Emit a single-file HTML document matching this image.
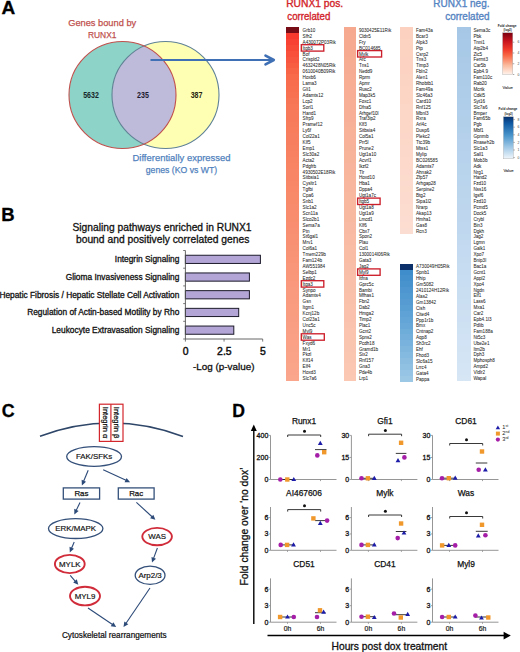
<!DOCTYPE html>
<html><head><meta charset="utf-8"><title>Figure</title>
<style>
html,body{margin:0;padding:0;background:#fff;}
body{width:520px;height:652px;overflow:hidden;}
svg{display:block;font-family:"Liberation Sans", sans-serif;}
</style></head><body>
<svg width="520" height="652" viewBox="0 0 520 652">
<rect width="520" height="652" fill="#fff"/>
<text x="1.4" y="14.3" font-size="19" fill="#000" font-weight="bold" stroke="#000" stroke-width="0.3">A</text>
<circle cx="122.5" cy="95" r="53.5" fill="#8DD3C7"/>
<circle cx="165.5" cy="95" r="53.5" fill="#FFFFB3"/>
<path d="M144.0,46.01020514433644 A53.5,53.5 0 0 1 144.0,143.98979485566355 A53.5,53.5 0 0 1 144.0,46.01020514433644 Z" fill="#BEBADA"/>
<circle cx="165.5" cy="95" r="53.5" fill="none" stroke="#5f8296" stroke-width="1.1"/>
<circle cx="122.5" cy="95" r="53.5" fill="none" stroke="#c0504d" stroke-width="1.1"/>
<text x="91.0" y="98.1" font-size="8.4" fill="#16262a" text-anchor="middle" font-weight="bold" textLength="15.6" lengthAdjust="spacingAndGlyphs">5632</text>
<text x="143" y="98.1" font-size="8.4" fill="#1c1a30" text-anchor="middle" font-weight="bold" textLength="11.8" lengthAdjust="spacingAndGlyphs">235</text>
<text x="196.6" y="98.1" font-size="8.4" fill="#262610" text-anchor="middle" font-weight="bold" textLength="11.8" lengthAdjust="spacingAndGlyphs">387</text>
<text x="102.2" y="25.8" font-size="9.9" fill="#c0504d" text-anchor="middle" stroke="#c0504d" stroke-width="0.25" textLength="68" lengthAdjust="spacingAndGlyphs">Genes bound by</text>
<text x="102.2" y="38" font-size="9.9" fill="#c0504d" text-anchor="middle" stroke="#c0504d" stroke-width="0.25" textLength="28.5" lengthAdjust="spacingAndGlyphs">RUNX1</text>
<text x="181.5" y="160.9" font-size="9.9" fill="#4f81bd" text-anchor="middle" stroke="#4f81bd" stroke-width="0.25" textLength="98" lengthAdjust="spacingAndGlyphs">Differentially expressed</text>
<text x="181.5" y="173.3" font-size="9.9" fill="#4f81bd" text-anchor="middle" stroke="#4f81bd" stroke-width="0.25" textLength="71.5" lengthAdjust="spacingAndGlyphs">genes (KO vs WT)</text>
<line x1="150.5" y1="60" x2="273" y2="60" stroke="#3f6fb4" stroke-width="2.2"/>
<polyline points="265.5,55.6 273.8,60 265.5,64.4" fill="none" stroke="#3f6fb4" stroke-width="2.6" stroke-linecap="round" stroke-linejoin="round"/>
<text x="286.2" y="7.3" font-size="10.6" fill="#d2232a" stroke="#d2232a" stroke-width="0.35" textLength="57.0" lengthAdjust="spacingAndGlyphs">RUNX1 pos.</text>
<text x="287.3" y="20.0" font-size="10.6" fill="#d2232a" stroke="#d2232a" stroke-width="0.35" textLength="43.0" lengthAdjust="spacingAndGlyphs">correlated</text>
<text x="489.5" y="7.3" font-size="10.6" fill="#5584c2" text-anchor="end" stroke="#5584c2" stroke-width="0.35" textLength="56.2" lengthAdjust="spacingAndGlyphs">RUNX1 neg.</text>
<text x="489.5" y="20.0" font-size="10.6" fill="#5584c2" text-anchor="end" stroke="#5584c2" stroke-width="0.35" textLength="44.3" lengthAdjust="spacingAndGlyphs">correlated</text>
<rect x="286.2" y="27.10" width="12.8" height="6.20" fill="#780c16" shape-rendering="crispEdges"/>
<rect x="286.2" y="33.00" width="12.8" height="6.20" fill="#f83a2e" shape-rendering="crispEdges"/>
<rect x="286.2" y="38.90" width="12.8" height="6.20" fill="#f84132" shape-rendering="crispEdges"/>
<rect x="286.2" y="44.80" width="12.8" height="6.20" fill="#f84936" shape-rendering="crispEdges"/>
<rect x="286.2" y="50.70" width="12.8" height="6.20" fill="#f8503a" shape-rendering="crispEdges"/>
<rect x="286.2" y="56.60" width="12.8" height="6.20" fill="#f8563e" shape-rendering="crispEdges"/>
<rect x="286.2" y="62.50" width="12.8" height="6.20" fill="#f85d42" shape-rendering="crispEdges"/>
<rect x="286.2" y="68.40" width="12.8" height="6.20" fill="#f86446" shape-rendering="crispEdges"/>
<rect x="286.2" y="74.30" width="12.8" height="6.20" fill="#f86a4a" shape-rendering="crispEdges"/>
<rect x="286.2" y="80.20" width="12.8" height="6.20" fill="#f86d4d" shape-rendering="crispEdges"/>
<rect x="286.2" y="86.10" width="12.8" height="6.20" fill="#f86f4f" shape-rendering="crispEdges"/>
<rect x="286.2" y="92.00" width="12.8" height="6.20" fill="#f87252" shape-rendering="crispEdges"/>
<rect x="286.2" y="97.90" width="12.8" height="6.20" fill="#f77555" shape-rendering="crispEdges"/>
<rect x="286.2" y="103.80" width="12.8" height="6.20" fill="#f77757" shape-rendering="crispEdges"/>
<rect x="286.2" y="109.70" width="12.8" height="6.20" fill="#f77a5a" shape-rendering="crispEdges"/>
<rect x="286.2" y="115.60" width="12.8" height="6.20" fill="#f77b5b" shape-rendering="crispEdges"/>
<rect x="286.2" y="121.50" width="12.8" height="6.20" fill="#f77c5c" shape-rendering="crispEdges"/>
<rect x="286.2" y="127.40" width="12.8" height="6.20" fill="#f77d5d" shape-rendering="crispEdges"/>
<rect x="286.2" y="133.30" width="12.8" height="6.20" fill="#f77e5e" shape-rendering="crispEdges"/>
<rect x="286.2" y="139.20" width="12.8" height="6.20" fill="#f77f5f" shape-rendering="crispEdges"/>
<rect x="286.2" y="145.10" width="12.8" height="6.20" fill="#f78060" shape-rendering="crispEdges"/>
<rect x="286.2" y="151.00" width="12.8" height="6.20" fill="#f78161" shape-rendering="crispEdges"/>
<rect x="286.2" y="156.90" width="12.8" height="6.20" fill="#f88363" shape-rendering="crispEdges"/>
<rect x="286.2" y="162.80" width="12.8" height="6.20" fill="#f88464" shape-rendering="crispEdges"/>
<rect x="286.2" y="168.70" width="12.8" height="6.20" fill="#f88565" shape-rendering="crispEdges"/>
<rect x="286.2" y="174.60" width="12.8" height="6.20" fill="#f88666" shape-rendering="crispEdges"/>
<rect x="286.2" y="180.50" width="12.8" height="6.20" fill="#f88767" shape-rendering="crispEdges"/>
<rect x="286.2" y="186.40" width="12.8" height="6.20" fill="#f88868" shape-rendering="crispEdges"/>
<rect x="286.2" y="192.30" width="12.8" height="6.20" fill="#f88969" shape-rendering="crispEdges"/>
<rect x="286.2" y="198.20" width="12.8" height="6.20" fill="#f88a6a" shape-rendering="crispEdges"/>
<rect x="286.2" y="204.10" width="12.8" height="6.20" fill="#f88b6b" shape-rendering="crispEdges"/>
<rect x="286.2" y="210.00" width="12.8" height="6.20" fill="#f88c6c" shape-rendering="crispEdges"/>
<rect x="286.2" y="215.90" width="12.8" height="6.20" fill="#f88d6e" shape-rendering="crispEdges"/>
<rect x="286.2" y="221.80" width="12.8" height="6.20" fill="#f88e6f" shape-rendering="crispEdges"/>
<rect x="286.2" y="227.70" width="12.8" height="6.20" fill="#f88f70" shape-rendering="crispEdges"/>
<rect x="286.2" y="233.60" width="12.8" height="6.20" fill="#f89072" shape-rendering="crispEdges"/>
<rect x="286.2" y="239.50" width="12.8" height="6.20" fill="#f89173" shape-rendering="crispEdges"/>
<rect x="286.2" y="245.40" width="12.8" height="6.20" fill="#f89274" shape-rendering="crispEdges"/>
<rect x="286.2" y="251.30" width="12.8" height="6.20" fill="#f99375" shape-rendering="crispEdges"/>
<rect x="286.2" y="257.20" width="12.8" height="6.20" fill="#f99476" shape-rendering="crispEdges"/>
<rect x="286.2" y="263.10" width="12.8" height="6.20" fill="#f99578" shape-rendering="crispEdges"/>
<rect x="286.2" y="269.00" width="12.8" height="6.20" fill="#f99679" shape-rendering="crispEdges"/>
<rect x="286.2" y="274.90" width="12.8" height="6.20" fill="#f9977a" shape-rendering="crispEdges"/>
<rect x="286.2" y="280.80" width="12.8" height="6.20" fill="#f9987c" shape-rendering="crispEdges"/>
<rect x="286.2" y="286.70" width="12.8" height="6.20" fill="#f9997d" shape-rendering="crispEdges"/>
<rect x="286.2" y="292.60" width="12.8" height="6.20" fill="#f99a7e" shape-rendering="crispEdges"/>
<rect x="286.2" y="298.50" width="12.8" height="6.20" fill="#f99b7f" shape-rendering="crispEdges"/>
<rect x="286.2" y="304.40" width="12.8" height="6.20" fill="#f99c80" shape-rendering="crispEdges"/>
<rect x="286.2" y="310.30" width="12.8" height="6.20" fill="#f99d81" shape-rendering="crispEdges"/>
<rect x="286.2" y="316.20" width="12.8" height="6.20" fill="#f99d82" shape-rendering="crispEdges"/>
<rect x="286.2" y="322.10" width="12.8" height="6.20" fill="#f99e83" shape-rendering="crispEdges"/>
<rect x="286.2" y="328.00" width="12.8" height="6.20" fill="#f99f84" shape-rendering="crispEdges"/>
<rect x="286.2" y="333.90" width="12.8" height="6.20" fill="#faa085" shape-rendering="crispEdges"/>
<rect x="286.2" y="339.80" width="12.8" height="6.20" fill="#faa186" shape-rendering="crispEdges"/>
<rect x="286.2" y="345.70" width="12.8" height="6.20" fill="#faa287" shape-rendering="crispEdges"/>
<rect x="286.2" y="351.60" width="12.8" height="6.20" fill="#faa388" shape-rendering="crispEdges"/>
<rect x="286.2" y="357.50" width="12.8" height="6.20" fill="#faa389" shape-rendering="crispEdges"/>
<rect x="286.2" y="363.40" width="12.8" height="6.20" fill="#faa48a" shape-rendering="crispEdges"/>
<rect x="286.2" y="369.30" width="12.8" height="6.20" fill="#faa58b" shape-rendering="crispEdges"/>
<rect x="286.2" y="375.20" width="12.8" height="6.20" fill="#faa68c" shape-rendering="crispEdges"/>
<text x="302.6" y="31.95" font-size="4.6" fill="#262626" stroke="#262626" stroke-width="0.04">Grb10</text>
<text x="302.6" y="37.85" font-size="4.6" fill="#262626" stroke="#262626" stroke-width="0.04">Sfh2</text>
<text x="302.6" y="43.75" font-size="4.6" fill="#262626" stroke="#262626" stroke-width="0.04">A430072P03Rik</text>
<text x="302.6" y="49.65" font-size="4.6" fill="#262626" stroke="#262626" stroke-width="0.04">Itgb3</text>
<text x="302.6" y="55.55" font-size="4.6" fill="#262626" stroke="#262626" stroke-width="0.04">Bof</text>
<text x="302.6" y="61.45" font-size="4.6" fill="#262626" stroke="#262626" stroke-width="0.04">Crispld2</text>
<text x="302.6" y="67.35" font-size="4.6" fill="#262626" stroke="#262626" stroke-width="0.04">4632428N05Rik</text>
<text x="302.6" y="73.25" font-size="4.6" fill="#262626" stroke="#262626" stroke-width="0.04">0610040B09Rik</text>
<text x="302.6" y="79.15" font-size="4.6" fill="#262626" stroke="#262626" stroke-width="0.04">Hoxb6</text>
<text x="302.6" y="85.05" font-size="4.6" fill="#262626" stroke="#262626" stroke-width="0.04">Lama3</text>
<text x="302.6" y="90.95" font-size="4.6" fill="#262626" stroke="#262626" stroke-width="0.04">Gli1</text>
<text x="302.6" y="96.85" font-size="4.6" fill="#262626" stroke="#262626" stroke-width="0.04">Adamts12</text>
<text x="302.6" y="102.75" font-size="4.6" fill="#262626" stroke="#262626" stroke-width="0.04">Lcp2</text>
<text x="302.6" y="108.65" font-size="4.6" fill="#262626" stroke="#262626" stroke-width="0.04">Sorl1</text>
<text x="302.6" y="114.55" font-size="4.6" fill="#262626" stroke="#262626" stroke-width="0.04">Hand1</text>
<text x="302.6" y="120.45" font-size="4.6" fill="#262626" stroke="#262626" stroke-width="0.04">Sfrp9</text>
<text x="302.6" y="126.35" font-size="4.6" fill="#262626" stroke="#262626" stroke-width="0.04">Pramef12</text>
<text x="302.6" y="132.25" font-size="4.6" fill="#262626" stroke="#262626" stroke-width="0.04">Ly6f</text>
<text x="302.6" y="138.15" font-size="4.6" fill="#262626" stroke="#262626" stroke-width="0.04">Col22a1</text>
<text x="302.6" y="144.05" font-size="4.6" fill="#262626" stroke="#262626" stroke-width="0.04">Klf5</text>
<text x="302.6" y="149.95" font-size="4.6" fill="#262626" stroke="#262626" stroke-width="0.04">Emp1</text>
<text x="302.6" y="155.85" font-size="4.6" fill="#262626" stroke="#262626" stroke-width="0.04">Slc30a2</text>
<text x="302.6" y="161.75" font-size="4.6" fill="#262626" stroke="#262626" stroke-width="0.04">Acta2</text>
<text x="302.6" y="167.65" font-size="4.6" fill="#262626" stroke="#262626" stroke-width="0.04">Pdgfrb</text>
<text x="302.6" y="173.55" font-size="4.6" fill="#262626" stroke="#262626" stroke-width="0.04">4930502E18Rik</text>
<text x="302.6" y="179.45" font-size="4.6" fill="#262626" stroke="#262626" stroke-width="0.04">Sitbsia1</text>
<text x="302.6" y="185.35" font-size="4.6" fill="#262626" stroke="#262626" stroke-width="0.04">Cysltr1</text>
<text x="302.6" y="191.25" font-size="4.6" fill="#262626" stroke="#262626" stroke-width="0.04">Tgfbi</text>
<text x="302.6" y="197.15" font-size="4.6" fill="#262626" stroke="#262626" stroke-width="0.04">Cpa6</text>
<text x="302.6" y="203.05" font-size="4.6" fill="#262626" stroke="#262626" stroke-width="0.04">Snb1</text>
<text x="302.6" y="208.95" font-size="4.6" fill="#262626" stroke="#262626" stroke-width="0.04">Slc1a2</text>
<text x="302.6" y="214.85" font-size="4.6" fill="#262626" stroke="#262626" stroke-width="0.04">Scn11a</text>
<text x="302.6" y="220.75" font-size="4.6" fill="#262626" stroke="#262626" stroke-width="0.04">Slco2b1</text>
<text x="302.6" y="226.65" font-size="4.6" fill="#262626" stroke="#262626" stroke-width="0.04">Sema7a</text>
<text x="302.6" y="232.55" font-size="4.6" fill="#262626" stroke="#262626" stroke-width="0.04">Ptn</text>
<text x="302.6" y="238.45" font-size="4.6" fill="#262626" stroke="#262626" stroke-width="0.04">St6gal1</text>
<text x="302.6" y="244.35" font-size="4.6" fill="#262626" stroke="#262626" stroke-width="0.04">Mrv1</text>
<text x="302.6" y="250.25" font-size="4.6" fill="#262626" stroke="#262626" stroke-width="0.04">Col6a1</text>
<text x="302.6" y="256.15" font-size="4.6" fill="#262626" stroke="#262626" stroke-width="0.04">Tmem229b</text>
<text x="302.6" y="262.05" font-size="4.6" fill="#262626" stroke="#262626" stroke-width="0.04">Fam124b</text>
<text x="302.6" y="267.95" font-size="4.6" fill="#262626" stroke="#262626" stroke-width="0.04">AW551984</text>
<text x="302.6" y="273.85" font-size="4.6" fill="#262626" stroke="#262626" stroke-width="0.04">Selbp1</text>
<text x="302.6" y="279.75" font-size="4.6" fill="#262626" stroke="#262626" stroke-width="0.04">Ezdc2</text>
<text x="302.6" y="285.65" font-size="4.6" fill="#262626" stroke="#262626" stroke-width="0.04">Itga3</text>
<text x="302.6" y="291.55" font-size="4.6" fill="#262626" stroke="#262626" stroke-width="0.04">Synpo</text>
<text x="302.6" y="297.45" font-size="4.6" fill="#262626" stroke="#262626" stroke-width="0.04">Adamts4</text>
<text x="302.6" y="303.35" font-size="4.6" fill="#262626" stroke="#262626" stroke-width="0.04">Gsn</text>
<text x="302.6" y="309.25" font-size="4.6" fill="#262626" stroke="#262626" stroke-width="0.04">Itgm1</text>
<text x="302.6" y="315.15" font-size="4.6" fill="#262626" stroke="#262626" stroke-width="0.04">Kcnj12b</text>
<text x="302.6" y="321.05" font-size="4.6" fill="#262626" stroke="#262626" stroke-width="0.04">Col23a1</text>
<text x="302.6" y="326.95" font-size="4.6" fill="#262626" stroke="#262626" stroke-width="0.04">Unc5c</text>
<text x="302.6" y="332.85" font-size="4.6" fill="#262626" stroke="#262626" stroke-width="0.04">Myl9</text>
<text x="302.6" y="338.75" font-size="4.6" fill="#262626" stroke="#262626" stroke-width="0.04">Was</text>
<text x="302.6" y="344.65" font-size="4.6" fill="#262626" stroke="#262626" stroke-width="0.04">Fxyd6</text>
<text x="302.6" y="350.55" font-size="4.6" fill="#262626" stroke="#262626" stroke-width="0.04">Mr1</text>
<text x="302.6" y="356.45" font-size="4.6" fill="#262626" stroke="#262626" stroke-width="0.04">Pkzl</text>
<text x="302.6" y="362.35" font-size="4.6" fill="#262626" stroke="#262626" stroke-width="0.04">Klf14</text>
<text x="302.6" y="368.25" font-size="4.6" fill="#262626" stroke="#262626" stroke-width="0.04">Elf4</text>
<text x="302.6" y="374.15" font-size="4.6" fill="#262626" stroke="#262626" stroke-width="0.04">Hoxd3</text>
<text x="302.6" y="380.05" font-size="4.6" fill="#262626" stroke="#262626" stroke-width="0.04">Slc7a6</text>
<rect x="301.3" y="44.70" width="22.5" height="6.40" fill="none" stroke="#cc1f2c" stroke-width="1.35"/>
<rect x="301.3" y="280.70" width="22.5" height="6.40" fill="none" stroke="#cc1f2c" stroke-width="1.35"/>
<rect x="301.3" y="333.80" width="23" height="6.40" fill="none" stroke="#cc1f2c" stroke-width="1.35"/>
<rect x="343.5" y="27.10" width="12.5" height="6.20" fill="#f6a98e" shape-rendering="crispEdges"/>
<rect x="343.5" y="33.00" width="12.5" height="6.20" fill="#f6aa8f" shape-rendering="crispEdges"/>
<rect x="343.5" y="38.90" width="12.5" height="6.20" fill="#f6aa8f" shape-rendering="crispEdges"/>
<rect x="343.5" y="44.80" width="12.5" height="6.20" fill="#f6aa90" shape-rendering="crispEdges"/>
<rect x="343.5" y="50.70" width="12.5" height="6.20" fill="#f6ab90" shape-rendering="crispEdges"/>
<rect x="343.5" y="56.60" width="12.5" height="6.20" fill="#f6ac91" shape-rendering="crispEdges"/>
<rect x="343.5" y="62.50" width="12.5" height="6.20" fill="#f6ac92" shape-rendering="crispEdges"/>
<rect x="343.5" y="68.40" width="12.5" height="6.20" fill="#f6ac92" shape-rendering="crispEdges"/>
<rect x="343.5" y="74.30" width="12.5" height="6.20" fill="#f7ad93" shape-rendering="crispEdges"/>
<rect x="343.5" y="80.20" width="12.5" height="6.20" fill="#f7ae93" shape-rendering="crispEdges"/>
<rect x="343.5" y="86.10" width="12.5" height="6.20" fill="#f7ae94" shape-rendering="crispEdges"/>
<rect x="343.5" y="92.00" width="12.5" height="6.20" fill="#f7ae95" shape-rendering="crispEdges"/>
<rect x="343.5" y="97.90" width="12.5" height="6.20" fill="#f7af95" shape-rendering="crispEdges"/>
<rect x="343.5" y="103.80" width="12.5" height="6.20" fill="#f7b096" shape-rendering="crispEdges"/>
<rect x="343.5" y="109.70" width="12.5" height="6.20" fill="#f7b096" shape-rendering="crispEdges"/>
<rect x="343.5" y="115.60" width="12.5" height="6.20" fill="#f7b097" shape-rendering="crispEdges"/>
<rect x="343.5" y="121.50" width="12.5" height="6.20" fill="#f7b198" shape-rendering="crispEdges"/>
<rect x="343.5" y="127.40" width="12.5" height="6.20" fill="#f7b298" shape-rendering="crispEdges"/>
<rect x="343.5" y="133.30" width="12.5" height="6.20" fill="#f7b299" shape-rendering="crispEdges"/>
<rect x="343.5" y="139.20" width="12.5" height="6.20" fill="#f7b299" shape-rendering="crispEdges"/>
<rect x="343.5" y="145.10" width="12.5" height="6.20" fill="#f7b39a" shape-rendering="crispEdges"/>
<rect x="343.5" y="151.00" width="12.5" height="6.20" fill="#f7b49b" shape-rendering="crispEdges"/>
<rect x="343.5" y="156.90" width="12.5" height="6.20" fill="#f7b49b" shape-rendering="crispEdges"/>
<rect x="343.5" y="162.80" width="12.5" height="6.20" fill="#f8b49c" shape-rendering="crispEdges"/>
<rect x="343.5" y="168.70" width="12.5" height="6.20" fill="#f8b59c" shape-rendering="crispEdges"/>
<rect x="343.5" y="174.60" width="12.5" height="6.20" fill="#f8b69d" shape-rendering="crispEdges"/>
<rect x="343.5" y="180.50" width="12.5" height="6.20" fill="#f8b69e" shape-rendering="crispEdges"/>
<rect x="343.5" y="186.40" width="12.5" height="6.20" fill="#f8b69e" shape-rendering="crispEdges"/>
<rect x="343.5" y="192.30" width="12.5" height="6.20" fill="#f8b79f" shape-rendering="crispEdges"/>
<rect x="343.5" y="198.20" width="12.5" height="6.20" fill="#f8b89f" shape-rendering="crispEdges"/>
<rect x="343.5" y="204.10" width="12.5" height="6.20" fill="#f8b8a0" shape-rendering="crispEdges"/>
<rect x="343.5" y="210.00" width="12.5" height="6.20" fill="#f8b9a1" shape-rendering="crispEdges"/>
<rect x="343.5" y="215.90" width="12.5" height="6.20" fill="#f8b9a1" shape-rendering="crispEdges"/>
<rect x="343.5" y="221.80" width="12.5" height="6.20" fill="#f8baa2" shape-rendering="crispEdges"/>
<rect x="343.5" y="227.70" width="12.5" height="6.20" fill="#f8baa3" shape-rendering="crispEdges"/>
<rect x="343.5" y="233.60" width="12.5" height="6.20" fill="#f9bba3" shape-rendering="crispEdges"/>
<rect x="343.5" y="239.50" width="12.5" height="6.20" fill="#f9bba4" shape-rendering="crispEdges"/>
<rect x="343.5" y="245.40" width="12.5" height="6.20" fill="#f9bca5" shape-rendering="crispEdges"/>
<rect x="343.5" y="251.30" width="12.5" height="6.20" fill="#f9bca5" shape-rendering="crispEdges"/>
<rect x="343.5" y="257.20" width="12.5" height="6.20" fill="#f9bda6" shape-rendering="crispEdges"/>
<rect x="343.5" y="263.10" width="12.5" height="6.20" fill="#f9bea7" shape-rendering="crispEdges"/>
<rect x="343.5" y="269.00" width="12.5" height="6.20" fill="#f9bea7" shape-rendering="crispEdges"/>
<rect x="343.5" y="274.90" width="12.5" height="6.20" fill="#f9bfa8" shape-rendering="crispEdges"/>
<rect x="343.5" y="280.80" width="12.5" height="6.20" fill="#f9bfa9" shape-rendering="crispEdges"/>
<rect x="343.5" y="286.70" width="12.5" height="6.20" fill="#f9c0a9" shape-rendering="crispEdges"/>
<rect x="343.5" y="292.60" width="12.5" height="6.20" fill="#fac0aa" shape-rendering="crispEdges"/>
<rect x="343.5" y="298.50" width="12.5" height="6.20" fill="#fac1aa" shape-rendering="crispEdges"/>
<rect x="343.5" y="304.40" width="12.5" height="6.20" fill="#fac1ab" shape-rendering="crispEdges"/>
<rect x="343.5" y="310.30" width="12.5" height="6.20" fill="#fac2ac" shape-rendering="crispEdges"/>
<rect x="343.5" y="316.20" width="12.5" height="6.20" fill="#fac2ac" shape-rendering="crispEdges"/>
<rect x="343.5" y="322.10" width="12.5" height="6.20" fill="#fac3ad" shape-rendering="crispEdges"/>
<rect x="343.5" y="328.00" width="12.5" height="6.20" fill="#fac4ae" shape-rendering="crispEdges"/>
<rect x="343.5" y="333.90" width="12.5" height="6.20" fill="#fac4ae" shape-rendering="crispEdges"/>
<rect x="343.5" y="339.80" width="12.5" height="6.20" fill="#fac5af" shape-rendering="crispEdges"/>
<rect x="343.5" y="345.70" width="12.5" height="6.20" fill="#fac5b0" shape-rendering="crispEdges"/>
<rect x="343.5" y="351.60" width="12.5" height="6.20" fill="#fbc6b0" shape-rendering="crispEdges"/>
<rect x="343.5" y="357.50" width="12.5" height="6.20" fill="#fbc6b1" shape-rendering="crispEdges"/>
<rect x="343.5" y="363.40" width="12.5" height="6.20" fill="#fbc7b2" shape-rendering="crispEdges"/>
<rect x="343.5" y="369.30" width="12.5" height="6.20" fill="#fbc7b2" shape-rendering="crispEdges"/>
<rect x="343.5" y="375.20" width="12.5" height="6.20" fill="#fbc8b3" shape-rendering="crispEdges"/>
<text x="358.9" y="31.95" font-size="4.6" fill="#262626" stroke="#262626" stroke-width="0.04">9030425E11Rik</text>
<text x="358.9" y="37.85" font-size="4.6" fill="#262626" stroke="#262626" stroke-width="0.04">Cldn5</text>
<text x="358.9" y="43.75" font-size="4.6" fill="#262626" stroke="#262626" stroke-width="0.04">Fry</text>
<text x="358.9" y="49.65" font-size="4.6" fill="#262626" stroke="#262626" stroke-width="0.04">BC014685</text>
<text x="358.9" y="55.55" font-size="4.6" fill="#262626" stroke="#262626" stroke-width="0.04">Mylk</text>
<text x="358.9" y="61.45" font-size="4.6" fill="#262626" stroke="#262626" stroke-width="0.04">Arc</text>
<text x="358.9" y="67.35" font-size="4.6" fill="#262626" stroke="#262626" stroke-width="0.04">Tns1</text>
<text x="358.9" y="73.25" font-size="4.6" fill="#262626" stroke="#262626" stroke-width="0.04">Nedd9</text>
<text x="358.9" y="79.15" font-size="4.6" fill="#262626" stroke="#262626" stroke-width="0.04">Rprm</text>
<text x="358.9" y="85.05" font-size="4.6" fill="#262626" stroke="#262626" stroke-width="0.04">Apmr</text>
<text x="358.9" y="90.95" font-size="4.6" fill="#262626" stroke="#262626" stroke-width="0.04">Rusc2</text>
<text x="358.9" y="96.85" font-size="4.6" fill="#262626" stroke="#262626" stroke-width="0.04">Map3k5</text>
<text x="358.9" y="102.75" font-size="4.6" fill="#262626" stroke="#262626" stroke-width="0.04">Foxc1</text>
<text x="358.9" y="108.65" font-size="4.6" fill="#262626" stroke="#262626" stroke-width="0.04">Dfna5</text>
<text x="358.9" y="114.55" font-size="4.6" fill="#262626" stroke="#262626" stroke-width="0.04">Arhgef10l</text>
<text x="358.9" y="120.45" font-size="4.6" fill="#262626" stroke="#262626" stroke-width="0.04">Traf3ip2</text>
<text x="358.9" y="126.35" font-size="4.6" fill="#262626" stroke="#262626" stroke-width="0.04">Klf3</text>
<text x="358.9" y="132.25" font-size="4.6" fill="#262626" stroke="#262626" stroke-width="0.04">Sitbsia4</text>
<text x="358.9" y="138.15" font-size="4.6" fill="#262626" stroke="#262626" stroke-width="0.04">Col5a1</text>
<text x="358.9" y="144.05" font-size="4.6" fill="#262626" stroke="#262626" stroke-width="0.04">Prr5l</text>
<text x="358.9" y="149.95" font-size="4.6" fill="#262626" stroke="#262626" stroke-width="0.04">Prune2</text>
<text x="358.9" y="155.85" font-size="4.6" fill="#262626" stroke="#262626" stroke-width="0.04">Ugt1a10</text>
<text x="358.9" y="161.75" font-size="4.6" fill="#262626" stroke="#262626" stroke-width="0.04">Acvrl1</text>
<text x="358.9" y="167.65" font-size="4.6" fill="#262626" stroke="#262626" stroke-width="0.04">Ikzf2</text>
<text x="358.9" y="173.55" font-size="4.6" fill="#262626" stroke="#262626" stroke-width="0.04">Tlr</text>
<text x="358.9" y="179.45" font-size="4.6" fill="#262626" stroke="#262626" stroke-width="0.04">Hoxd10</text>
<text x="358.9" y="185.35" font-size="4.6" fill="#262626" stroke="#262626" stroke-width="0.04">Hba1</text>
<text x="358.9" y="191.25" font-size="4.6" fill="#262626" stroke="#262626" stroke-width="0.04">Dppa4</text>
<text x="358.9" y="197.15" font-size="4.6" fill="#262626" stroke="#262626" stroke-width="0.04">Ugt1a7c</text>
<text x="358.9" y="203.05" font-size="4.6" fill="#262626" stroke="#262626" stroke-width="0.04">Itgb5</text>
<text x="358.9" y="208.95" font-size="4.6" fill="#262626" stroke="#262626" stroke-width="0.04">Ugt1a8</text>
<text x="358.9" y="214.85" font-size="4.6" fill="#262626" stroke="#262626" stroke-width="0.04">Ugt1a9</text>
<text x="358.9" y="220.75" font-size="4.6" fill="#262626" stroke="#262626" stroke-width="0.04">Lmcd1</text>
<text x="358.9" y="226.65" font-size="4.6" fill="#262626" stroke="#262626" stroke-width="0.04">Klf6</text>
<text x="358.9" y="232.55" font-size="4.6" fill="#262626" stroke="#262626" stroke-width="0.04">Cbx7</text>
<text x="358.9" y="238.45" font-size="4.6" fill="#262626" stroke="#262626" stroke-width="0.04">Spon2</text>
<text x="358.9" y="244.35" font-size="4.6" fill="#262626" stroke="#262626" stroke-width="0.04">Plau</text>
<text x="358.9" y="250.25" font-size="4.6" fill="#262626" stroke="#262626" stroke-width="0.04">Col1</text>
<text x="358.9" y="256.15" font-size="4.6" fill="#262626" stroke="#262626" stroke-width="0.04">1300014I06Rik</text>
<text x="358.9" y="262.05" font-size="4.6" fill="#262626" stroke="#262626" stroke-width="0.04">Gata3</text>
<text x="358.9" y="267.95" font-size="4.6" fill="#262626" stroke="#262626" stroke-width="0.04">Jag2</text>
<text x="358.9" y="273.85" font-size="4.6" fill="#262626" stroke="#262626" stroke-width="0.04">Myl9</text>
<text x="358.9" y="279.75" font-size="4.6" fill="#262626" stroke="#262626" stroke-width="0.04">Itfna</text>
<text x="358.9" y="285.65" font-size="4.6" fill="#262626" stroke="#262626" stroke-width="0.04">Gprc5c</text>
<text x="358.9" y="291.55" font-size="4.6" fill="#262626" stroke="#262626" stroke-width="0.04">Bambi</text>
<text x="358.9" y="297.45" font-size="4.6" fill="#262626" stroke="#262626" stroke-width="0.04">Mfhas1</text>
<text x="358.9" y="303.35" font-size="4.6" fill="#262626" stroke="#262626" stroke-width="0.04">Fbn2</text>
<text x="358.9" y="309.25" font-size="4.6" fill="#262626" stroke="#262626" stroke-width="0.04">Dab2</text>
<text x="358.9" y="315.15" font-size="4.6" fill="#262626" stroke="#262626" stroke-width="0.04">Hmga2</text>
<text x="358.9" y="321.05" font-size="4.6" fill="#262626" stroke="#262626" stroke-width="0.04">Timp2</text>
<text x="358.9" y="326.95" font-size="4.6" fill="#262626" stroke="#262626" stroke-width="0.04">Plac1</text>
<text x="358.9" y="332.85" font-size="4.6" fill="#262626" stroke="#262626" stroke-width="0.04">Gcnt2</text>
<text x="358.9" y="338.75" font-size="4.6" fill="#262626" stroke="#262626" stroke-width="0.04">Spns2</text>
<text x="358.9" y="344.65" font-size="4.6" fill="#262626" stroke="#262626" stroke-width="0.04">Pcdh18</text>
<text x="358.9" y="350.55" font-size="4.6" fill="#262626" stroke="#262626" stroke-width="0.04">Gramd1b</text>
<text x="358.9" y="356.45" font-size="4.6" fill="#262626" stroke="#262626" stroke-width="0.04">Six2</text>
<text x="358.9" y="362.35" font-size="4.6" fill="#262626" stroke="#262626" stroke-width="0.04">Rnf157</text>
<text x="358.9" y="368.25" font-size="4.6" fill="#262626" stroke="#262626" stroke-width="0.04">Gna3</text>
<text x="358.9" y="374.15" font-size="4.6" fill="#262626" stroke="#262626" stroke-width="0.04">Pde4b</text>
<text x="358.9" y="380.05" font-size="4.6" fill="#262626" stroke="#262626" stroke-width="0.04">Lrp1</text>
<rect x="357.59999999999997" y="50.60" width="24" height="6.40" fill="none" stroke="#cc1f2c" stroke-width="1.35"/>
<rect x="357.59999999999997" y="198.10" width="22.5" height="6.40" fill="none" stroke="#cc1f2c" stroke-width="1.35"/>
<rect x="357.59999999999997" y="268.90" width="22.5" height="6.40" fill="none" stroke="#cc1f2c" stroke-width="1.35"/>
<rect x="400.0" y="27.10" width="12.8" height="6.20" fill="#fcd1bf" shape-rendering="crispEdges"/>
<rect x="400.0" y="33.00" width="12.8" height="6.20" fill="#fcd1c0" shape-rendering="crispEdges"/>
<rect x="400.0" y="38.90" width="12.8" height="6.20" fill="#fcd2c0" shape-rendering="crispEdges"/>
<rect x="400.0" y="44.80" width="12.8" height="6.20" fill="#fcd2c1" shape-rendering="crispEdges"/>
<rect x="400.0" y="50.70" width="12.8" height="6.20" fill="#fcd2c1" shape-rendering="crispEdges"/>
<rect x="400.0" y="56.60" width="12.8" height="6.20" fill="#fcd3c2" shape-rendering="crispEdges"/>
<rect x="400.0" y="62.50" width="12.8" height="6.20" fill="#fcd3c2" shape-rendering="crispEdges"/>
<rect x="400.0" y="68.40" width="12.8" height="6.20" fill="#fcd3c3" shape-rendering="crispEdges"/>
<rect x="400.0" y="74.30" width="12.8" height="6.20" fill="#fcd4c3" shape-rendering="crispEdges"/>
<rect x="400.0" y="80.20" width="12.8" height="6.20" fill="#fcd4c4" shape-rendering="crispEdges"/>
<rect x="400.0" y="86.10" width="12.8" height="6.20" fill="#fcd5c4" shape-rendering="crispEdges"/>
<rect x="400.0" y="92.00" width="12.8" height="6.20" fill="#fcd5c5" shape-rendering="crispEdges"/>
<rect x="400.0" y="97.90" width="12.8" height="6.20" fill="#fcd5c5" shape-rendering="crispEdges"/>
<rect x="400.0" y="103.80" width="12.8" height="6.20" fill="#fcd6c6" shape-rendering="crispEdges"/>
<rect x="400.0" y="109.70" width="12.8" height="6.20" fill="#fcd6c6" shape-rendering="crispEdges"/>
<rect x="400.0" y="115.60" width="12.8" height="6.20" fill="#fcd6c7" shape-rendering="crispEdges"/>
<rect x="400.0" y="121.50" width="12.8" height="6.20" fill="#fcd7c7" shape-rendering="crispEdges"/>
<rect x="400.0" y="127.40" width="12.8" height="6.20" fill="#fcd7c8" shape-rendering="crispEdges"/>
<rect x="400.0" y="133.30" width="12.8" height="6.20" fill="#fcd7c9" shape-rendering="crispEdges"/>
<rect x="400.0" y="139.20" width="12.8" height="6.20" fill="#fcd8c9" shape-rendering="crispEdges"/>
<rect x="400.0" y="145.10" width="12.8" height="6.20" fill="#fcd8ca" shape-rendering="crispEdges"/>
<rect x="400.0" y="151.00" width="12.8" height="6.20" fill="#fcd8ca" shape-rendering="crispEdges"/>
<rect x="400.0" y="156.90" width="12.8" height="6.20" fill="#fcd9cb" shape-rendering="crispEdges"/>
<rect x="400.0" y="162.80" width="12.8" height="6.20" fill="#fcd9cb" shape-rendering="crispEdges"/>
<rect x="400.0" y="168.70" width="12.8" height="6.20" fill="#fcd9cc" shape-rendering="crispEdges"/>
<rect x="400.0" y="174.60" width="12.8" height="6.20" fill="#fcdacc" shape-rendering="crispEdges"/>
<rect x="400.0" y="180.50" width="12.8" height="6.20" fill="#fcdacd" shape-rendering="crispEdges"/>
<rect x="400.0" y="186.40" width="12.8" height="6.20" fill="#fcdbcd" shape-rendering="crispEdges"/>
<rect x="400.0" y="192.30" width="12.8" height="6.20" fill="#fcdbce" shape-rendering="crispEdges"/>
<rect x="400.0" y="198.20" width="12.8" height="6.20" fill="#fcdbce" shape-rendering="crispEdges"/>
<rect x="400.0" y="204.10" width="12.8" height="6.20" fill="#fcdccf" shape-rendering="crispEdges"/>
<rect x="400.0" y="210.00" width="12.8" height="6.20" fill="#fcdccf" shape-rendering="crispEdges"/>
<rect x="400.0" y="215.90" width="12.8" height="6.20" fill="#fcdcd0" shape-rendering="crispEdges"/>
<rect x="400.0" y="221.80" width="12.8" height="6.20" fill="#fcddd0" shape-rendering="crispEdges"/>
<rect x="400.0" y="227.70" width="12.8" height="6.20" fill="#fcddd1" shape-rendering="crispEdges"/>
<text x="416.0" y="31.95" font-size="4.6" fill="#262626" stroke="#262626" stroke-width="0.04">Fam43a</text>
<text x="416.0" y="37.85" font-size="4.6" fill="#262626" stroke="#262626" stroke-width="0.04">Bcar3</text>
<text x="416.0" y="43.75" font-size="4.6" fill="#262626" stroke="#262626" stroke-width="0.04">Alpk3</text>
<text x="416.0" y="49.65" font-size="4.6" fill="#262626" stroke="#262626" stroke-width="0.04">Ptp</text>
<text x="416.0" y="55.55" font-size="4.6" fill="#262626" stroke="#262626" stroke-width="0.04">Csrp2</text>
<text x="416.0" y="61.45" font-size="4.6" fill="#262626" stroke="#262626" stroke-width="0.04">Tns3</text>
<text x="416.0" y="67.35" font-size="4.6" fill="#262626" stroke="#262626" stroke-width="0.04">Timp3</text>
<text x="416.0" y="73.25" font-size="4.6" fill="#262626" stroke="#262626" stroke-width="0.04">Fbln2</text>
<text x="416.0" y="79.15" font-size="4.6" fill="#262626" stroke="#262626" stroke-width="0.04">Alen1</text>
<text x="416.0" y="85.05" font-size="4.6" fill="#262626" stroke="#262626" stroke-width="0.04">Rhobtb1</text>
<text x="416.0" y="90.95" font-size="4.6" fill="#262626" stroke="#262626" stroke-width="0.04">Fam49a</text>
<text x="416.0" y="96.85" font-size="4.6" fill="#262626" stroke="#262626" stroke-width="0.04">Slc46a3</text>
<text x="416.0" y="102.75" font-size="4.6" fill="#262626" stroke="#262626" stroke-width="0.04">Card10</text>
<text x="416.0" y="108.65" font-size="4.6" fill="#262626" stroke="#262626" stroke-width="0.04">Rnf125</text>
<text x="416.0" y="114.55" font-size="4.6" fill="#262626" stroke="#262626" stroke-width="0.04">Mbnl3</text>
<text x="416.0" y="120.45" font-size="4.6" fill="#262626" stroke="#262626" stroke-width="0.04">Rxra</text>
<text x="416.0" y="126.35" font-size="4.6" fill="#262626" stroke="#262626" stroke-width="0.04">Arl4c</text>
<text x="416.0" y="132.25" font-size="4.6" fill="#262626" stroke="#262626" stroke-width="0.04">Dusp6</text>
<text x="416.0" y="138.15" font-size="4.6" fill="#262626" stroke="#262626" stroke-width="0.04">Plekc2</text>
<text x="416.0" y="144.05" font-size="4.6" fill="#262626" stroke="#262626" stroke-width="0.04">Ttc39b</text>
<text x="416.0" y="149.95" font-size="4.6" fill="#262626" stroke="#262626" stroke-width="0.04">Mtss1</text>
<text x="416.0" y="155.85" font-size="4.6" fill="#262626" stroke="#262626" stroke-width="0.04">Mylip</text>
<text x="416.0" y="161.75" font-size="4.6" fill="#262626" stroke="#262626" stroke-width="0.04">BC026585</text>
<text x="416.0" y="167.65" font-size="4.6" fill="#262626" stroke="#262626" stroke-width="0.04">Adamts7</text>
<text x="416.0" y="173.55" font-size="4.6" fill="#262626" stroke="#262626" stroke-width="0.04">Ahnak2</text>
<text x="416.0" y="179.45" font-size="4.6" fill="#262626" stroke="#262626" stroke-width="0.04">Zfp57</text>
<text x="416.0" y="185.35" font-size="4.6" fill="#262626" stroke="#262626" stroke-width="0.04">Arhgap28</text>
<text x="416.0" y="191.25" font-size="4.6" fill="#262626" stroke="#262626" stroke-width="0.04">Serpine2</text>
<text x="416.0" y="197.15" font-size="4.6" fill="#262626" stroke="#262626" stroke-width="0.04">Btg2</text>
<text x="416.0" y="203.05" font-size="4.6" fill="#262626" stroke="#262626" stroke-width="0.04">Sipa1l2</text>
<text x="416.0" y="208.95" font-size="4.6" fill="#262626" stroke="#262626" stroke-width="0.04">Nrarp</text>
<text x="416.0" y="214.85" font-size="4.6" fill="#262626" stroke="#262626" stroke-width="0.04">Akap13</text>
<text x="416.0" y="220.75" font-size="4.6" fill="#262626" stroke="#262626" stroke-width="0.04">Hmha1</text>
<text x="416.0" y="226.65" font-size="4.6" fill="#262626" stroke="#262626" stroke-width="0.04">Gas8</text>
<text x="416.0" y="232.55" font-size="4.6" fill="#262626" stroke="#262626" stroke-width="0.04">Rcn3</text>
<rect x="399.8" y="263.60" width="13.4" height="6.20" fill="#0c306a" shape-rendering="crispEdges"/>
<rect x="399.8" y="269.50" width="13.4" height="6.20" fill="#3f8dcb" shape-rendering="crispEdges"/>
<rect x="399.8" y="275.40" width="13.4" height="6.20" fill="#4490cc" shape-rendering="crispEdges"/>
<rect x="399.8" y="281.30" width="13.4" height="6.20" fill="#4893ce" shape-rendering="crispEdges"/>
<rect x="399.8" y="287.20" width="13.4" height="6.20" fill="#4d96cf" shape-rendering="crispEdges"/>
<rect x="399.8" y="293.10" width="13.4" height="6.20" fill="#5199d1" shape-rendering="crispEdges"/>
<rect x="399.8" y="299.00" width="13.4" height="6.20" fill="#569cd2" shape-rendering="crispEdges"/>
<rect x="399.8" y="304.90" width="13.4" height="6.20" fill="#5a9fd4" shape-rendering="crispEdges"/>
<rect x="399.8" y="310.80" width="13.4" height="6.20" fill="#5fa2d5" shape-rendering="crispEdges"/>
<rect x="399.8" y="316.70" width="13.4" height="6.20" fill="#63a5d7" shape-rendering="crispEdges"/>
<rect x="399.8" y="322.60" width="13.4" height="6.20" fill="#68a8d8" shape-rendering="crispEdges"/>
<rect x="399.8" y="328.50" width="13.4" height="6.20" fill="#6eacda" shape-rendering="crispEdges"/>
<rect x="399.8" y="334.40" width="13.4" height="6.20" fill="#74afdb" shape-rendering="crispEdges"/>
<rect x="399.8" y="340.30" width="13.4" height="6.20" fill="#79b3dd" shape-rendering="crispEdges"/>
<rect x="399.8" y="346.20" width="13.4" height="6.20" fill="#7fb6de" shape-rendering="crispEdges"/>
<rect x="399.8" y="352.10" width="13.4" height="6.20" fill="#85bae0" shape-rendering="crispEdges"/>
<rect x="399.8" y="358.00" width="13.4" height="6.20" fill="#8bbde1" shape-rendering="crispEdges"/>
<rect x="399.8" y="363.90" width="13.4" height="6.20" fill="#90c1e3" shape-rendering="crispEdges"/>
<rect x="399.8" y="369.80" width="13.4" height="6.20" fill="#96c4e4" shape-rendering="crispEdges"/>
<rect x="399.8" y="375.70" width="13.4" height="6.20" fill="#9cc8e6" shape-rendering="crispEdges"/>
<text x="416.0" y="268.45" font-size="4.6" fill="#262626" stroke="#262626" stroke-width="0.04">A730049H05Rik</text>
<text x="416.0" y="274.35" font-size="4.6" fill="#262626" stroke="#262626" stroke-width="0.04">Spnb1</text>
<text x="416.0" y="280.25" font-size="4.6" fill="#262626" stroke="#262626" stroke-width="0.04">Hhip</text>
<text x="416.0" y="286.15" font-size="4.6" fill="#262626" stroke="#262626" stroke-width="0.04">Gm5082</text>
<text x="416.0" y="292.05" font-size="4.6" fill="#262626" stroke="#262626" stroke-width="0.04">2410124H12Rik</text>
<text x="416.0" y="297.95" font-size="4.6" fill="#262626" stroke="#262626" stroke-width="0.04">Alas2</text>
<text x="416.0" y="303.85" font-size="4.6" fill="#262626" stroke="#262626" stroke-width="0.04">Gm13842</text>
<text x="416.0" y="309.75" font-size="4.6" fill="#262626" stroke="#262626" stroke-width="0.04">Cish</text>
<text x="416.0" y="315.65" font-size="4.6" fill="#262626" stroke="#262626" stroke-width="0.04">Cited4</text>
<text x="416.0" y="321.55" font-size="4.6" fill="#262626" stroke="#262626" stroke-width="0.04">Ppp1r1b</text>
<text x="416.0" y="327.45" font-size="4.6" fill="#262626" stroke="#262626" stroke-width="0.04">Bmx</text>
<text x="416.0" y="333.35" font-size="4.6" fill="#262626" stroke="#262626" stroke-width="0.04">Cntnap2</text>
<text x="416.0" y="339.25" font-size="4.6" fill="#262626" stroke="#262626" stroke-width="0.04">Aqp8</text>
<text x="416.0" y="345.15" font-size="4.6" fill="#262626" stroke="#262626" stroke-width="0.04">Sh3rc2</text>
<text x="416.0" y="351.05" font-size="4.6" fill="#262626" stroke="#262626" stroke-width="0.04">Ehf</text>
<text x="416.0" y="356.95" font-size="4.6" fill="#262626" stroke="#262626" stroke-width="0.04">Fhod3</text>
<text x="416.0" y="362.85" font-size="4.6" fill="#262626" stroke="#262626" stroke-width="0.04">Slc6a15</text>
<text x="416.0" y="368.75" font-size="4.6" fill="#262626" stroke="#262626" stroke-width="0.04">Lrrc4</text>
<text x="416.0" y="374.65" font-size="4.6" fill="#262626" stroke="#262626" stroke-width="0.04">Gata4</text>
<text x="416.0" y="380.55" font-size="4.6" fill="#262626" stroke="#262626" stroke-width="0.04">Pappa</text>
<rect x="457.0" y="27.10" width="13.5" height="6.20" fill="#a6c8e6" shape-rendering="crispEdges"/>
<rect x="457.0" y="33.00" width="13.5" height="6.20" fill="#a7c8e6" shape-rendering="crispEdges"/>
<rect x="457.0" y="38.90" width="13.5" height="6.20" fill="#a8c9e7" shape-rendering="crispEdges"/>
<rect x="457.0" y="44.80" width="13.5" height="6.20" fill="#a8c9e7" shape-rendering="crispEdges"/>
<rect x="457.0" y="50.70" width="13.5" height="6.20" fill="#a9cae7" shape-rendering="crispEdges"/>
<rect x="457.0" y="56.60" width="13.5" height="6.20" fill="#aacae7" shape-rendering="crispEdges"/>
<rect x="457.0" y="62.50" width="13.5" height="6.20" fill="#abcbe8" shape-rendering="crispEdges"/>
<rect x="457.0" y="68.40" width="13.5" height="6.20" fill="#abcbe8" shape-rendering="crispEdges"/>
<rect x="457.0" y="74.30" width="13.5" height="6.20" fill="#accce8" shape-rendering="crispEdges"/>
<rect x="457.0" y="80.20" width="13.5" height="6.20" fill="#adcce8" shape-rendering="crispEdges"/>
<rect x="457.0" y="86.10" width="13.5" height="6.20" fill="#aecde9" shape-rendering="crispEdges"/>
<rect x="457.0" y="92.00" width="13.5" height="6.20" fill="#aecde9" shape-rendering="crispEdges"/>
<rect x="457.0" y="97.90" width="13.5" height="6.20" fill="#afcee9" shape-rendering="crispEdges"/>
<rect x="457.0" y="103.80" width="13.5" height="6.20" fill="#b0cee9" shape-rendering="crispEdges"/>
<rect x="457.0" y="109.70" width="13.5" height="6.20" fill="#b1cfea" shape-rendering="crispEdges"/>
<rect x="457.0" y="115.60" width="13.5" height="6.20" fill="#b2cfea" shape-rendering="crispEdges"/>
<rect x="457.0" y="121.50" width="13.5" height="6.20" fill="#b2cfea" shape-rendering="crispEdges"/>
<rect x="457.0" y="127.40" width="13.5" height="6.20" fill="#b3d0eb" shape-rendering="crispEdges"/>
<rect x="457.0" y="133.30" width="13.5" height="6.20" fill="#b4d0eb" shape-rendering="crispEdges"/>
<rect x="457.0" y="139.20" width="13.5" height="6.20" fill="#b5d1eb" shape-rendering="crispEdges"/>
<rect x="457.0" y="145.10" width="13.5" height="6.20" fill="#b5d1eb" shape-rendering="crispEdges"/>
<rect x="457.0" y="151.00" width="13.5" height="6.20" fill="#b6d2ec" shape-rendering="crispEdges"/>
<rect x="457.0" y="156.90" width="13.5" height="6.20" fill="#b7d2ec" shape-rendering="crispEdges"/>
<rect x="457.0" y="162.80" width="13.5" height="6.20" fill="#b8d3ec" shape-rendering="crispEdges"/>
<rect x="457.0" y="168.70" width="13.5" height="6.20" fill="#b8d3ec" shape-rendering="crispEdges"/>
<rect x="457.0" y="174.60" width="13.5" height="6.20" fill="#b9d4ed" shape-rendering="crispEdges"/>
<rect x="457.0" y="180.50" width="13.5" height="6.20" fill="#bad4ed" shape-rendering="crispEdges"/>
<rect x="457.0" y="186.40" width="13.5" height="6.20" fill="#bbd5ed" shape-rendering="crispEdges"/>
<rect x="457.0" y="192.30" width="13.5" height="6.20" fill="#bbd5ed" shape-rendering="crispEdges"/>
<rect x="457.0" y="198.20" width="13.5" height="6.20" fill="#bcd6ee" shape-rendering="crispEdges"/>
<rect x="457.0" y="204.10" width="13.5" height="6.20" fill="#bdd6ee" shape-rendering="crispEdges"/>
<rect x="457.0" y="210.00" width="13.5" height="6.20" fill="#bed7ee" shape-rendering="crispEdges"/>
<rect x="457.0" y="215.90" width="13.5" height="6.20" fill="#bfd7ee" shape-rendering="crispEdges"/>
<rect x="457.0" y="221.80" width="13.5" height="6.20" fill="#c0d8ef" shape-rendering="crispEdges"/>
<rect x="457.0" y="227.70" width="13.5" height="6.20" fill="#c0d8ef" shape-rendering="crispEdges"/>
<rect x="457.0" y="233.60" width="13.5" height="6.20" fill="#c1d9ef" shape-rendering="crispEdges"/>
<rect x="457.0" y="239.50" width="13.5" height="6.20" fill="#c2d9ef" shape-rendering="crispEdges"/>
<rect x="457.0" y="245.40" width="13.5" height="6.20" fill="#c3daf0" shape-rendering="crispEdges"/>
<rect x="457.0" y="251.30" width="13.5" height="6.20" fill="#c4daf0" shape-rendering="crispEdges"/>
<rect x="457.0" y="257.20" width="13.5" height="6.20" fill="#c5dbf0" shape-rendering="crispEdges"/>
<rect x="457.0" y="263.10" width="13.5" height="6.20" fill="#c6dcf0" shape-rendering="crispEdges"/>
<rect x="457.0" y="269.00" width="13.5" height="6.20" fill="#c6dcf1" shape-rendering="crispEdges"/>
<rect x="457.0" y="274.90" width="13.5" height="6.20" fill="#c7ddf1" shape-rendering="crispEdges"/>
<rect x="457.0" y="280.80" width="13.5" height="6.20" fill="#c8ddf1" shape-rendering="crispEdges"/>
<rect x="457.0" y="286.70" width="13.5" height="6.20" fill="#c9def1" shape-rendering="crispEdges"/>
<rect x="457.0" y="292.60" width="13.5" height="6.20" fill="#cadef2" shape-rendering="crispEdges"/>
<rect x="457.0" y="298.50" width="13.5" height="6.20" fill="#cbdff2" shape-rendering="crispEdges"/>
<rect x="457.0" y="304.40" width="13.5" height="6.20" fill="#ccdff2" shape-rendering="crispEdges"/>
<rect x="457.0" y="310.30" width="13.5" height="6.20" fill="#cde0f2" shape-rendering="crispEdges"/>
<rect x="457.0" y="316.20" width="13.5" height="6.20" fill="#cde0f3" shape-rendering="crispEdges"/>
<rect x="457.0" y="322.10" width="13.5" height="6.20" fill="#cee1f3" shape-rendering="crispEdges"/>
<rect x="457.0" y="328.00" width="13.5" height="6.20" fill="#cfe2f3" shape-rendering="crispEdges"/>
<rect x="457.0" y="333.90" width="13.5" height="6.20" fill="#d0e2f3" shape-rendering="crispEdges"/>
<rect x="457.0" y="339.80" width="13.5" height="6.20" fill="#d1e3f4" shape-rendering="crispEdges"/>
<rect x="457.0" y="345.70" width="13.5" height="6.20" fill="#d2e3f4" shape-rendering="crispEdges"/>
<rect x="457.0" y="351.60" width="13.5" height="6.20" fill="#d3e4f4" shape-rendering="crispEdges"/>
<rect x="457.0" y="357.50" width="13.5" height="6.20" fill="#d3e4f4" shape-rendering="crispEdges"/>
<rect x="457.0" y="363.40" width="13.5" height="6.20" fill="#d4e5f5" shape-rendering="crispEdges"/>
<rect x="457.0" y="369.30" width="13.5" height="6.20" fill="#d5e5f5" shape-rendering="crispEdges"/>
<rect x="457.0" y="375.20" width="13.5" height="6.20" fill="#d6e6f5" shape-rendering="crispEdges"/>
<text x="473.4" y="31.95" font-size="4.6" fill="#262626" stroke="#262626" stroke-width="0.04">Sema3c</text>
<text x="473.4" y="37.85" font-size="4.6" fill="#262626" stroke="#262626" stroke-width="0.04">Pbk</text>
<text x="473.4" y="43.75" font-size="4.6" fill="#262626" stroke="#262626" stroke-width="0.04">Tnni1</text>
<text x="473.4" y="49.65" font-size="4.6" fill="#262626" stroke="#262626" stroke-width="0.04">Atp2b4</text>
<text x="473.4" y="55.55" font-size="4.6" fill="#262626" stroke="#262626" stroke-width="0.04">Zic5</text>
<text x="473.4" y="61.45" font-size="4.6" fill="#262626" stroke="#262626" stroke-width="0.04">Fermt3</text>
<text x="473.4" y="67.35" font-size="4.6" fill="#262626" stroke="#262626" stroke-width="0.04">Car5b</text>
<text x="473.4" y="73.25" font-size="4.6" fill="#262626" stroke="#262626" stroke-width="0.04">Epb4.9</text>
<text x="473.4" y="79.15" font-size="4.6" fill="#262626" stroke="#262626" stroke-width="0.04">Fam110c</text>
<text x="473.4" y="85.05" font-size="4.6" fill="#262626" stroke="#262626" stroke-width="0.04">Rab20</text>
<text x="473.4" y="90.95" font-size="4.6" fill="#262626" stroke="#262626" stroke-width="0.04">Mcrtk</text>
<text x="473.4" y="96.85" font-size="4.6" fill="#262626" stroke="#262626" stroke-width="0.04">Cdkl5</text>
<text x="473.4" y="102.75" font-size="4.6" fill="#262626" stroke="#262626" stroke-width="0.04">Syt16</text>
<text x="473.4" y="108.65" font-size="4.6" fill="#262626" stroke="#262626" stroke-width="0.04">Slc7a6</text>
<text x="473.4" y="114.55" font-size="4.6" fill="#262626" stroke="#262626" stroke-width="0.04">Bmper</text>
<text x="473.4" y="120.45" font-size="4.6" fill="#262626" stroke="#262626" stroke-width="0.04">Fam65b</text>
<text x="473.4" y="126.35" font-size="4.6" fill="#262626" stroke="#262626" stroke-width="0.04">Pgb</text>
<text x="473.4" y="132.25" font-size="4.6" fill="#262626" stroke="#262626" stroke-width="0.04">Mbf1</text>
<text x="473.4" y="138.15" font-size="4.6" fill="#262626" stroke="#262626" stroke-width="0.04">Gpnmb</text>
<text x="473.4" y="144.05" font-size="4.6" fill="#262626" stroke="#262626" stroke-width="0.04">Rnaseh2b</text>
<text x="473.4" y="149.95" font-size="4.6" fill="#262626" stroke="#262626" stroke-width="0.04">Slc1a3</text>
<text x="473.4" y="155.85" font-size="4.6" fill="#262626" stroke="#262626" stroke-width="0.04">Sall1</text>
<text x="473.4" y="161.75" font-size="4.6" fill="#262626" stroke="#262626" stroke-width="0.04">Mob3b</text>
<text x="473.4" y="167.65" font-size="4.6" fill="#262626" stroke="#262626" stroke-width="0.04">Adk</text>
<text x="473.4" y="173.55" font-size="4.6" fill="#262626" stroke="#262626" stroke-width="0.04">Nrg1</text>
<text x="473.4" y="179.45" font-size="4.6" fill="#262626" stroke="#262626" stroke-width="0.04">Hand2</text>
<text x="473.4" y="185.35" font-size="4.6" fill="#262626" stroke="#262626" stroke-width="0.04">Fzd10</text>
<text x="473.4" y="191.25" font-size="4.6" fill="#262626" stroke="#262626" stroke-width="0.04">Nss16</text>
<text x="473.4" y="197.15" font-size="4.6" fill="#262626" stroke="#262626" stroke-width="0.04">Igsf6</text>
<text x="473.4" y="203.05" font-size="4.6" fill="#262626" stroke="#262626" stroke-width="0.04">Fzd10</text>
<text x="473.4" y="208.95" font-size="4.6" fill="#262626" stroke="#262626" stroke-width="0.04">Pcmd5</text>
<text x="473.4" y="214.85" font-size="4.6" fill="#262626" stroke="#262626" stroke-width="0.04">Dock5</text>
<text x="473.4" y="220.75" font-size="4.6" fill="#262626" stroke="#262626" stroke-width="0.04">Crybl</text>
<text x="473.4" y="226.65" font-size="4.6" fill="#262626" stroke="#262626" stroke-width="0.04">Bin3</text>
<text x="473.4" y="232.55" font-size="4.6" fill="#262626" stroke="#262626" stroke-width="0.04">Dgkh</text>
<text x="473.4" y="238.45" font-size="4.6" fill="#262626" stroke="#262626" stroke-width="0.04">Jag2</text>
<text x="473.4" y="244.35" font-size="4.6" fill="#262626" stroke="#262626" stroke-width="0.04">Lgmn</text>
<text x="473.4" y="250.25" font-size="4.6" fill="#262626" stroke="#262626" stroke-width="0.04">Galk1</text>
<text x="473.4" y="256.15" font-size="4.6" fill="#262626" stroke="#262626" stroke-width="0.04">Xpo7</text>
<text x="473.4" y="262.05" font-size="4.6" fill="#262626" stroke="#262626" stroke-width="0.04">Bnip3l</text>
<text x="473.4" y="267.95" font-size="4.6" fill="#262626" stroke="#262626" stroke-width="0.04">Bac1a</text>
<text x="473.4" y="273.85" font-size="4.6" fill="#262626" stroke="#262626" stroke-width="0.04">Gcnt1</text>
<text x="473.4" y="279.75" font-size="4.6" fill="#262626" stroke="#262626" stroke-width="0.04">Appl2</text>
<text x="473.4" y="285.65" font-size="4.6" fill="#262626" stroke="#262626" stroke-width="0.04">Xpo4</text>
<text x="473.4" y="291.55" font-size="4.6" fill="#262626" stroke="#262626" stroke-width="0.04">Ngdn</text>
<text x="473.4" y="297.45" font-size="4.6" fill="#262626" stroke="#262626" stroke-width="0.04">Elf1</text>
<text x="473.4" y="303.35" font-size="4.6" fill="#262626" stroke="#262626" stroke-width="0.04">Lass6</text>
<text x="473.4" y="309.25" font-size="4.6" fill="#262626" stroke="#262626" stroke-width="0.04">Mxa1</text>
<text x="473.4" y="315.15" font-size="4.6" fill="#262626" stroke="#262626" stroke-width="0.04">Car2</text>
<text x="473.4" y="321.05" font-size="4.6" fill="#262626" stroke="#262626" stroke-width="0.04">Epb4.1l3</text>
<text x="473.4" y="326.95" font-size="4.6" fill="#262626" stroke="#262626" stroke-width="0.04">Pdlib</text>
<text x="473.4" y="332.85" font-size="4.6" fill="#262626" stroke="#262626" stroke-width="0.04">Fam188a</text>
<text x="473.4" y="338.75" font-size="4.6" fill="#262626" stroke="#262626" stroke-width="0.04">Nt5c3</text>
<text x="473.4" y="344.65" font-size="4.6" fill="#262626" stroke="#262626" stroke-width="0.04">Ube2e1</text>
<text x="473.4" y="350.55" font-size="4.6" fill="#262626" stroke="#262626" stroke-width="0.04">Itm2b</text>
<text x="473.4" y="356.45" font-size="4.6" fill="#262626" stroke="#262626" stroke-width="0.04">Dph3</text>
<text x="473.4" y="362.35" font-size="4.6" fill="#262626" stroke="#262626" stroke-width="0.04">Mphosph8</text>
<text x="473.4" y="368.25" font-size="4.6" fill="#262626" stroke="#262626" stroke-width="0.04">Ampd2</text>
<text x="473.4" y="374.15" font-size="4.6" fill="#262626" stroke="#262626" stroke-width="0.04">Vldlr2</text>
<text x="473.4" y="380.05" font-size="4.6" fill="#262626" stroke="#262626" stroke-width="0.04">Wapal</text>
<defs><linearGradient id="gr" x1="0" y1="0" x2="0" y2="1"><stop offset="0" stop-color="#7a0010"/><stop offset="0.2" stop-color="#c8141e"/><stop offset="0.4" stop-color="#f03a2a"/><stop offset="0.55" stop-color="#f86a48"/><stop offset="0.78" stop-color="#fbbb9e"/><stop offset="1" stop-color="#fff4ee"/></linearGradient><linearGradient id="gb" x1="0" y1="0" x2="0" y2="1"><stop offset="0" stop-color="#08306b"/><stop offset="0.15" stop-color="#0e58a2"/><stop offset="0.45" stop-color="#4b96cc"/><stop offset="0.75" stop-color="#a8cde8"/><stop offset="1" stop-color="#f0f6fb"/></linearGradient></defs>
<rect x="502.6" y="32.8" width="10.2" height="41.8" fill="url(#gr)" stroke="#aaa" stroke-width="0.4"/>
<rect x="503.4" y="116.8" width="10" height="42" fill="url(#gb)" stroke="#aaa" stroke-width="0.4"/>
<text x="507.2" y="27.0" font-size="3.2" fill="#222" text-anchor="middle" font-weight="bold">Fold change</text>
<text x="507.7" y="31.2" font-size="3.0" fill="#222" text-anchor="middle" font-weight="bold">(log2)</text>
<text x="508.0" y="110.4" font-size="3.2" fill="#222" text-anchor="middle" font-weight="bold">Fold change</text>
<text x="508.6" y="114.8" font-size="3.0" fill="#222" text-anchor="middle" font-weight="bold">(log2)</text>
<text x="507.7" y="88.6" font-size="4.1" fill="#333" text-anchor="middle" stroke="#333" stroke-width="0.1">Value</text>
<text x="508.5" y="171.8" font-size="4.1" fill="#333" text-anchor="middle" stroke="#333" stroke-width="0.1">Value</text>
<line x1="512.8" y1="42.20" x2="514.3" y2="42.20" stroke="#555" stroke-width="0.5"/>
<text x="517.4" y="43.4" font-size="3.4" fill="#444">6</text>
<line x1="512.8" y1="52.97" x2="514.3" y2="52.97" stroke="#555" stroke-width="0.5"/>
<text x="517.4" y="54.17" font-size="3.4" fill="#444">4</text>
<line x1="512.8" y1="63.74" x2="514.3" y2="63.74" stroke="#555" stroke-width="0.5"/>
<text x="517.4" y="64.94" font-size="3.4" fill="#444">2</text>
<line x1="512.8" y1="74.51" x2="514.3" y2="74.51" stroke="#555" stroke-width="0.5"/>
<text x="517.4" y="75.71" font-size="3.4" fill="#444">0</text>
<line x1="513.4" y1="119.60" x2="514.8" y2="119.60" stroke="#555" stroke-width="0.5"/>
<text x="517.4" y="120.8" font-size="3.4" fill="#444">8</text>
<line x1="513.4" y1="127.20" x2="514.8" y2="127.20" stroke="#555" stroke-width="0.5"/>
<text x="517.4" y="128.4" font-size="3.4" fill="#444">6</text>
<line x1="513.4" y1="134.80" x2="514.8" y2="134.80" stroke="#555" stroke-width="0.5"/>
<text x="517.4" y="136.0" font-size="3.4" fill="#444">4</text>
<line x1="513.4" y1="142.40" x2="514.8" y2="142.40" stroke="#555" stroke-width="0.5"/>
<text x="517.4" y="143.6" font-size="3.4" fill="#444">2</text>
<line x1="513.4" y1="150.00" x2="514.8" y2="150.00" stroke="#555" stroke-width="0.5"/>
<text x="517.4" y="151.2" font-size="3.4" fill="#444">1</text>
<line x1="513.4" y1="157.60" x2="514.8" y2="157.60" stroke="#555" stroke-width="0.5"/>
<text x="517.4" y="158.8" font-size="3.4" fill="#444">0</text>
<text x="1.2" y="221.4" font-size="18.5" fill="#000" font-weight="bold" stroke="#000" stroke-width="0.3">B</text>
<text x="162" y="231.4" font-size="10.3" fill="#111" text-anchor="middle" stroke="#111" stroke-width="0.3" textLength="179" lengthAdjust="spacingAndGlyphs">Signaling pathways enriched in RUNX1</text>
<text x="162.7" y="242.6" font-size="10.3" fill="#111" text-anchor="middle" stroke="#111" stroke-width="0.3" textLength="173.5" lengthAdjust="spacingAndGlyphs">bound and positively correlated genes</text>
<text x="179.3" y="262.15" font-size="8.35" fill="#111" text-anchor="end" stroke="#111" stroke-width="0.3">Integrin Signaling</text>
<rect x="185.4" y="255.25" width="75.00" height="8.2" fill="#b3a6d6" stroke="#1c1a2a" stroke-width="1"/>
<text x="179.3" y="279.85" font-size="8.35" fill="#111" text-anchor="end" stroke="#111" stroke-width="0.3">Glioma Invasiveness Signaling</text>
<rect x="185.4" y="272.95" width="64.00" height="8.2" fill="#b3a6d6" stroke="#1c1a2a" stroke-width="1"/>
<text x="179.3" y="297.55" font-size="8.35" fill="#111" text-anchor="end" stroke="#111" stroke-width="0.3">Hepatic Fibrosis / Hepatic Stellate Cell Activation</text>
<rect x="185.4" y="290.65" width="64.00" height="8.2" fill="#b3a6d6" stroke="#1c1a2a" stroke-width="1"/>
<text x="179.3" y="315.25" font-size="8.35" fill="#111" text-anchor="end" stroke="#111" stroke-width="0.3">Regulation of Actin-based Motility by Rho</text>
<rect x="185.4" y="308.35" width="53.30" height="8.2" fill="#b3a6d6" stroke="#1c1a2a" stroke-width="1"/>
<text x="179.3" y="332.95" font-size="8.35" fill="#111" text-anchor="end" stroke="#111" stroke-width="0.3">Leukocyte Extravasation Signaling</text>
<rect x="185.4" y="326.05" width="48.40" height="8.2" fill="#b3a6d6" stroke="#1c1a2a" stroke-width="1"/>
<line x1="183.20000000000002" y1="250.50" x2="185.4" y2="250.50" stroke="#555" stroke-width="0.8"/>
<line x1="183.20000000000002" y1="268.20" x2="185.4" y2="268.20" stroke="#555" stroke-width="0.8"/>
<line x1="183.20000000000002" y1="285.90" x2="185.4" y2="285.90" stroke="#555" stroke-width="0.8"/>
<line x1="183.20000000000002" y1="303.60" x2="185.4" y2="303.60" stroke="#555" stroke-width="0.8"/>
<line x1="183.20000000000002" y1="321.30" x2="185.4" y2="321.30" stroke="#555" stroke-width="0.8"/>
<line x1="183.20000000000002" y1="339.00" x2="185.4" y2="339.00" stroke="#555" stroke-width="0.8"/>
<line x1="185.4" y1="250.5" x2="185.4" y2="339.00" stroke="#555" stroke-width="0.9"/>
<line x1="185.4" y1="339.00" x2="262.7" y2="339.00" stroke="#555" stroke-width="0.9"/>
<line x1="185.4" y1="339.00" x2="185.4" y2="341.60" stroke="#555" stroke-width="0.8"/>
<text x="185.70000000000002" y="355.2" font-size="10.4" fill="#111" text-anchor="middle" stroke="#111" stroke-width="0.45">0</text>
<line x1="224.05" y1="339.00" x2="224.05" y2="341.60" stroke="#555" stroke-width="0.8"/>
<text x="224.35000000000002" y="355.2" font-size="10.4" fill="#111" text-anchor="middle" stroke="#111" stroke-width="0.45">2.5</text>
<line x1="262.7" y1="339.00" x2="262.7" y2="341.60" stroke="#555" stroke-width="0.8"/>
<text x="263.0" y="355.2" font-size="10.4" fill="#111" text-anchor="middle" stroke="#111" stroke-width="0.45">5</text>
<text x="223.8" y="370.4" font-size="9.9" fill="#111" text-anchor="middle" stroke="#111" stroke-width="0.3">-Log (p-value)</text>
<text x="1.8" y="416.5" font-size="17.8" fill="#000" font-weight="bold" stroke="#000" stroke-width="0.3">C</text>
<path d="M40,436.3 Q111.4,409.8 183,436.5" fill="none" stroke="#2e4668" stroke-width="1.5"/>
<rect x="99.4" y="404.2" width="23.6" height="37.2" fill="#fff" stroke="#d2262c" stroke-width="1.2"/>
<line x1="110.9" y1="404.2" x2="110.9" y2="441.4" stroke="#d2262c" stroke-width="1.2"/>
<text transform="translate(102.6,406.8) rotate(90)" font-size="7.5" fill="#111" stroke="#111" stroke-width="0.25">Integrin α</text>
<text transform="translate(114.2,406.8) rotate(90)" font-size="7.5" fill="#111" stroke="#111" stroke-width="0.25">Integrin β</text>
<ellipse cx="94.1" cy="456.5" rx="27.4" ry="9.8" fill="#fff" stroke="#34507a" stroke-width="1.3"/>
<text x="94.1" y="459.2" font-size="7.9" fill="#111" text-anchor="middle" stroke="#111" stroke-width="0.18">FAK/SFKs</text>
<rect x="63.3" y="487.9" width="36.3" height="11.2" fill="#fff" stroke="#34507a" stroke-width="1.3"/>
<rect x="118.3" y="487.9" width="35.8" height="11.2" fill="#fff" stroke="#34507a" stroke-width="1.3"/>
<text x="81.4" y="496.3" font-size="7.9" fill="#111" text-anchor="middle" stroke="#111" stroke-width="0.25">Ras</text>
<text x="136.2" y="496.3" font-size="7.9" fill="#111" text-anchor="middle" stroke="#111" stroke-width="0.25">Rac</text>
<ellipse cx="75.7" cy="528.6" rx="27.2" ry="9.9" fill="#fff" stroke="#34507a" stroke-width="1.3"/>
<text x="75.7" y="531.3" font-size="7.9" fill="#111" text-anchor="middle" stroke="#111" stroke-width="0.18">ERK/MAPK</text>
<ellipse cx="157.1" cy="536.6" rx="14.8" ry="8.7" fill="#fff" stroke="#d02c3a" stroke-width="1.9"/>
<text x="157.1" y="539.3" font-size="7.9" fill="#111" text-anchor="middle" stroke="#111" stroke-width="0.18">WAS</text>
<ellipse cx="69.8" cy="564.0" rx="14.9" ry="9.1" fill="#fff" stroke="#d02c3a" stroke-width="1.9"/>
<text x="69.8" y="566.7" font-size="7.9" fill="#111" text-anchor="middle" stroke="#111" stroke-width="0.18">MYLK</text>
<ellipse cx="150.1" cy="575.3" rx="14.9" ry="9.1" fill="#fff" stroke="#34507a" stroke-width="1.3"/>
<text x="150.1" y="578.0" font-size="7.9" fill="#111" text-anchor="middle" stroke="#111" stroke-width="0.18">Arp2/3</text>
<ellipse cx="85.0" cy="596.1" rx="15.0" ry="9.3" fill="#fff" stroke="#d02c3a" stroke-width="1.9"/>
<text x="85.0" y="598.8" font-size="7.9" fill="#111" text-anchor="middle" stroke="#111" stroke-width="0.18">MYL9</text>
<line x1="88.2" y1="470.3" x2="83.63" y2="481.25" stroke="#2c4a78" stroke-width="1.1"/>
<polygon points="81.9,485.4 81.61,479.86 86.04,481.71" fill="#2c4a78"/>
<line x1="103.2" y1="469.7" x2="126.02" y2="480.30" stroke="#2c4a78" stroke-width="1.1"/>
<polygon points="130.1,482.2 124.55,482.27 126.58,477.92" fill="#2c4a78"/>
<line x1="80.0" y1="502.4" x2="76.23" y2="510.34" stroke="#2c4a78" stroke-width="1.1"/>
<polygon points="74.3,514.4 74.28,508.85 78.61,510.91" fill="#2c4a78"/>
<line x1="136.4" y1="502.4" x2="152.08" y2="516.76" stroke="#2c4a78" stroke-width="1.1"/>
<polygon points="155.4,519.8 150.09,518.19 153.33,514.65" fill="#2c4a78"/>
<line x1="74.2" y1="542.0" x2="71.55" y2="548.26" stroke="#2c4a78" stroke-width="1.1"/>
<polygon points="69.8,552.4 69.54,546.86 73.96,548.73" fill="#2c4a78"/>
<line x1="157.4" y1="548.0" x2="153.56" y2="558.38" stroke="#2c4a78" stroke-width="1.1"/>
<polygon points="152.0,562.6 151.48,557.08 155.99,558.74" fill="#2c4a78"/>
<line x1="70.2" y1="575.4" x2="75.34" y2="581.31" stroke="#2c4a78" stroke-width="1.1"/>
<polygon points="78.3,584.7 73.21,582.51 76.83,579.35" fill="#2c4a78"/>
<line x1="88.0" y1="608.0" x2="112.47" y2="624.49" stroke="#2c4a78" stroke-width="1.1"/>
<polygon points="116.2,627.0 110.71,626.20 113.39,622.22" fill="#2c4a78"/>
<line x1="150.0" y1="588.0" x2="126.03" y2="623.28" stroke="#2c4a78" stroke-width="1.1"/>
<polygon points="123.5,627.0 124.33,621.52 128.30,624.21" fill="#2c4a78"/>
<text x="114.3" y="637.9" font-size="8.2" fill="#111" text-anchor="middle" stroke="#111" stroke-width="0.22">Cytoskeletal rearrangements</text>
<text x="232.3" y="416.6" font-size="17.6" fill="#000" font-weight="bold" stroke="#000" stroke-width="0.3">D</text>
<line x1="253.8" y1="429" x2="253.8" y2="624" stroke="#000" stroke-width="1.4"/>
<polygon points="253.8,424.5 250.8,431 256.8,431" fill="#000"/>
<line x1="267.5" y1="635.6" x2="505" y2="635.6" stroke="#000" stroke-width="1.5"/>
<polygon points="510.8,635.6 503.6,631.8 503.6,639.4" fill="#000"/>
<text transform="translate(247.9,585.5) rotate(-90)" font-size="10.2" fill="#111" stroke="#111" stroke-width="0.3" textLength="118" lengthAdjust="spacingAndGlyphs">Fold change over  &#8216;no dox&#8217;</text>
<text x="389.3" y="650.3" font-size="10.3" fill="#111" text-anchor="middle" stroke="#111" stroke-width="0.3">Hours post dox treatment</text>
<polygon points="497.9,425.54 495.70,429.35 500.10,429.35" fill="#1c1ca8"/>
<rect x="495.90" y="431.60" width="4.0" height="4.0" fill="#f0982c"/>
<circle cx="497.9" cy="439.6" r="2.1" fill="#a51ea8"/>
<text x="502.3" y="429.4" font-size="5.6" fill="#222">1<tspan font-size="3.6" dy="-2">st</tspan></text>
<text x="502.3" y="435.2" font-size="5.6" fill="#222">2<tspan font-size="3.6" dy="-2">nd</tspan></text>
<text x="502.3" y="441.2" font-size="5.6" fill="#222">3<tspan font-size="3.6" dy="-2">rd</tspan></text>
<line x1="270.5" y1="435.4" x2="270.5" y2="479.5" stroke="#8a8a8a" stroke-width="0.9"/>
<line x1="270.5" y1="479.5" x2="336.5" y2="479.5" stroke="#8a8a8a" stroke-width="0.9"/>
<line x1="268.7" y1="479.50" x2="270.5" y2="479.50" stroke="#8a8a8a" stroke-width="0.8"/>
<text x="268.3" y="481.9" font-size="7.0" fill="#111" text-anchor="end" stroke="#111" stroke-width="0.28">0</text>
<line x1="268.7" y1="457.45" x2="270.5" y2="457.45" stroke="#8a8a8a" stroke-width="0.8"/>
<text x="268.3" y="459.85" font-size="7.0" fill="#111" text-anchor="end" stroke="#111" stroke-width="0.28">200</text>
<line x1="268.7" y1="435.40" x2="270.5" y2="435.40" stroke="#8a8a8a" stroke-width="0.8"/>
<text x="268.3" y="437.8" font-size="7.0" fill="#111" text-anchor="end" stroke="#111" stroke-width="0.28">400</text>
<line x1="287.5" y1="479.5" x2="287.5" y2="481.1" stroke="#8a8a8a" stroke-width="0.8"/>
<line x1="320.5" y1="479.5" x2="320.5" y2="481.1" stroke="#8a8a8a" stroke-width="0.8"/>
<text x="304.0" y="424.2" font-size="8.4" fill="#111" text-anchor="middle" stroke="#111" stroke-width="0.25">Runx1</text>
<path d="M287.7,437.0 L287.7,435.0 L320.7,435.0 L320.7,437.0" fill="none" stroke="#222" stroke-width="0.9"/>
<circle cx="304.5" cy="431.2" r="1.5" fill="#111"/>
<line x1="279.5" y1="479.5" x2="294.5" y2="479.5" stroke="#222" stroke-width="0.9"/>
<line x1="315.0" y1="449.6" x2="326.5" y2="449.6" stroke="#222" stroke-width="0.9"/>
<circle cx="280.3" cy="479.5" r="2.3" fill="#a51ea8"/>
<rect x="285.10" y="477.30" width="4.4" height="4.4" fill="#f0982c"/>
<polygon points="293.8,476.92 291.40,481.08 296.20,481.08" fill="#1c1ca8"/>
<circle cx="317.3" cy="455.4" r="2.3" fill="#a51ea8"/>
<rect x="322.00" y="450.00" width="4.4" height="4.4" fill="#f0982c"/>
<polygon points="320.3,440.72 317.90,444.88 322.70,444.88" fill="#1c1ca8"/>
<line x1="351.4" y1="435.4" x2="351.4" y2="479.5" stroke="#8a8a8a" stroke-width="0.9"/>
<line x1="351.4" y1="479.5" x2="417.4" y2="479.5" stroke="#8a8a8a" stroke-width="0.9"/>
<line x1="349.59999999999997" y1="479.50" x2="351.4" y2="479.50" stroke="#8a8a8a" stroke-width="0.8"/>
<text x="349.2" y="481.9" font-size="7.0" fill="#111" text-anchor="end" stroke="#111" stroke-width="0.28">0</text>
<line x1="349.59999999999997" y1="457.45" x2="351.4" y2="457.45" stroke="#8a8a8a" stroke-width="0.8"/>
<text x="349.2" y="459.85" font-size="7.0" fill="#111" text-anchor="end" stroke="#111" stroke-width="0.28">15</text>
<line x1="349.59999999999997" y1="435.40" x2="351.4" y2="435.40" stroke="#8a8a8a" stroke-width="0.8"/>
<text x="349.2" y="437.8" font-size="7.0" fill="#111" text-anchor="end" stroke="#111" stroke-width="0.28">30</text>
<line x1="368.4" y1="479.5" x2="368.4" y2="481.1" stroke="#8a8a8a" stroke-width="0.8"/>
<line x1="401.4" y1="479.5" x2="401.4" y2="481.1" stroke="#8a8a8a" stroke-width="0.8"/>
<text x="384.9" y="424.2" font-size="8.4" fill="#111" text-anchor="middle" stroke="#111" stroke-width="0.25">Gfi1</text>
<path d="M368.59999999999997,436.2 L368.59999999999997,434.2 L401.59999999999997,434.2 L401.59999999999997,436.2" fill="none" stroke="#222" stroke-width="0.9"/>
<circle cx="385.4" cy="430.4" r="1.5" fill="#111"/>
<line x1="360.4" y1="478.3" x2="375.4" y2="478.3" stroke="#222" stroke-width="0.9"/>
<line x1="395.79999999999995" y1="453.4" x2="406.4" y2="453.4" stroke="#222" stroke-width="0.9"/>
<circle cx="361.5" cy="478.3" r="2.3" fill="#a51ea8"/>
<rect x="365.70" y="476.10" width="4.4" height="4.4" fill="#f0982c"/>
<polygon points="374.3,475.72 371.90,479.88 376.70,479.88" fill="#1c1ca8"/>
<rect x="398.90" y="440.60" width="4.4" height="4.4" fill="#f0982c"/>
<polygon points="398.0,458.12 395.60,462.28 400.40,462.28" fill="#1c1ca8"/>
<circle cx="404.4" cy="457.4" r="2.3" fill="#a51ea8"/>
<line x1="432.5" y1="435.4" x2="432.5" y2="479.5" stroke="#8a8a8a" stroke-width="0.9"/>
<line x1="432.5" y1="479.5" x2="498.5" y2="479.5" stroke="#8a8a8a" stroke-width="0.9"/>
<line x1="430.7" y1="479.50" x2="432.5" y2="479.50" stroke="#8a8a8a" stroke-width="0.8"/>
<text x="430.3" y="481.9" font-size="7.0" fill="#111" text-anchor="end" stroke="#111" stroke-width="0.28">0</text>
<line x1="430.7" y1="457.45" x2="432.5" y2="457.45" stroke="#8a8a8a" stroke-width="0.8"/>
<text x="430.3" y="459.85" font-size="7.0" fill="#111" text-anchor="end" stroke="#111" stroke-width="0.28">15</text>
<line x1="430.7" y1="435.40" x2="432.5" y2="435.40" stroke="#8a8a8a" stroke-width="0.8"/>
<text x="430.3" y="437.8" font-size="7.0" fill="#111" text-anchor="end" stroke="#111" stroke-width="0.28">30</text>
<line x1="449.5" y1="479.5" x2="449.5" y2="481.1" stroke="#8a8a8a" stroke-width="0.8"/>
<line x1="482.5" y1="479.5" x2="482.5" y2="481.1" stroke="#8a8a8a" stroke-width="0.8"/>
<text x="466.0" y="424.2" font-size="8.4" fill="#111" text-anchor="middle" stroke="#111" stroke-width="0.25">CD61</text>
<path d="M449.7,445.5 L449.7,443.5 L482.7,443.5 L482.7,445.5" fill="none" stroke="#222" stroke-width="0.9"/>
<circle cx="466.5" cy="439.7" r="1.5" fill="#111"/>
<line x1="441.5" y1="478.2" x2="456.5" y2="478.2" stroke="#222" stroke-width="0.9"/>
<line x1="475.8" y1="463.0" x2="487.3" y2="463.0" stroke="#222" stroke-width="0.9"/>
<circle cx="442.0" cy="478.2" r="2.3" fill="#a51ea8"/>
<rect x="446.60" y="476.00" width="4.4" height="4.4" fill="#f0982c"/>
<polygon points="455.2,475.62 452.80,479.78 457.60,479.78" fill="#1c1ca8"/>
<rect x="479.80" y="449.30" width="4.4" height="4.4" fill="#f0982c"/>
<circle cx="478.7" cy="469.8" r="2.3" fill="#a51ea8"/>
<polygon points="485.4,467.22 483.00,471.38 487.80,471.38" fill="#1c1ca8"/>
<line x1="270.5" y1="507.0" x2="270.5" y2="550.3" stroke="#8a8a8a" stroke-width="0.9"/>
<line x1="270.5" y1="550.3" x2="336.5" y2="550.3" stroke="#8a8a8a" stroke-width="0.9"/>
<line x1="268.7" y1="550.30" x2="270.5" y2="550.30" stroke="#8a8a8a" stroke-width="0.8"/>
<text x="268.3" y="552.7" font-size="7.0" fill="#111" text-anchor="end" stroke="#111" stroke-width="0.28">0</text>
<line x1="268.7" y1="533.96" x2="270.5" y2="533.96" stroke="#8a8a8a" stroke-width="0.8"/>
<text x="268.3" y="536.36" font-size="7.0" fill="#111" text-anchor="end" stroke="#111" stroke-width="0.28">3</text>
<line x1="268.7" y1="517.62" x2="270.5" y2="517.62" stroke="#8a8a8a" stroke-width="0.8"/>
<text x="268.3" y="520.02" font-size="7.0" fill="#111" text-anchor="end" stroke="#111" stroke-width="0.28">6</text>
<line x1="287.5" y1="550.3" x2="287.5" y2="551.9" stroke="#8a8a8a" stroke-width="0.8"/>
<line x1="320.5" y1="550.3" x2="320.5" y2="551.9" stroke="#8a8a8a" stroke-width="0.8"/>
<text x="304.0" y="495.8" font-size="8.4" fill="#111" text-anchor="middle" stroke="#111" stroke-width="0.25">AI467606</text>
<path d="M287.7,511.6 L287.7,509.6 L320.7,509.6 L320.7,511.6" fill="none" stroke="#222" stroke-width="0.9"/>
<circle cx="304.5" cy="505.8" r="1.5" fill="#111"/>
<line x1="279.5" y1="544.9" x2="294.5" y2="544.9" stroke="#222" stroke-width="0.9"/>
<line x1="315.0" y1="520.6" x2="325.5" y2="520.6" stroke="#222" stroke-width="0.9"/>
<circle cx="280.7" cy="544.9" r="2.3" fill="#a51ea8"/>
<rect x="284.90" y="542.70" width="4.4" height="4.4" fill="#f0982c"/>
<polygon points="293.5,542.32 291.10,546.48 295.90,546.48" fill="#1c1ca8"/>
<rect x="311.20" y="516.20" width="4.4" height="4.4" fill="#f0982c"/>
<polygon points="320.3,520.72 317.90,524.88 322.70,524.88" fill="#1c1ca8"/>
<circle cx="327.1" cy="520.6" r="2.3" fill="#a51ea8"/>
<line x1="351.4" y1="507.0" x2="351.4" y2="550.3" stroke="#8a8a8a" stroke-width="0.9"/>
<line x1="351.4" y1="550.3" x2="417.4" y2="550.3" stroke="#8a8a8a" stroke-width="0.9"/>
<line x1="349.59999999999997" y1="550.30" x2="351.4" y2="550.30" stroke="#8a8a8a" stroke-width="0.8"/>
<text x="349.2" y="552.7" font-size="7.0" fill="#111" text-anchor="end" stroke="#111" stroke-width="0.28">0</text>
<line x1="349.59999999999997" y1="533.96" x2="351.4" y2="533.96" stroke="#8a8a8a" stroke-width="0.8"/>
<text x="349.2" y="536.36" font-size="7.0" fill="#111" text-anchor="end" stroke="#111" stroke-width="0.28">3</text>
<line x1="349.59999999999997" y1="517.62" x2="351.4" y2="517.62" stroke="#8a8a8a" stroke-width="0.8"/>
<text x="349.2" y="520.02" font-size="7.0" fill="#111" text-anchor="end" stroke="#111" stroke-width="0.28">6</text>
<line x1="368.4" y1="550.3" x2="368.4" y2="551.9" stroke="#8a8a8a" stroke-width="0.8"/>
<line x1="401.4" y1="550.3" x2="401.4" y2="551.9" stroke="#8a8a8a" stroke-width="0.8"/>
<text x="384.9" y="495.8" font-size="8.4" fill="#111" text-anchor="middle" stroke="#111" stroke-width="0.25">Mylk</text>
<path d="M368.59999999999997,517.0 L368.59999999999997,515.0 L401.59999999999997,515.0 L401.59999999999997,517.0" fill="none" stroke="#222" stroke-width="0.9"/>
<circle cx="385.4" cy="511.2" r="1.5" fill="#111"/>
<line x1="360.4" y1="544.9" x2="375.4" y2="544.9" stroke="#222" stroke-width="0.9"/>
<line x1="395.79999999999995" y1="531.5" x2="406.4" y2="531.5" stroke="#222" stroke-width="0.9"/>
<circle cx="361.5" cy="544.9" r="2.3" fill="#a51ea8"/>
<rect x="365.70" y="542.70" width="4.4" height="4.4" fill="#f0982c"/>
<polygon points="374.3,542.32 371.90,546.48 376.70,546.48" fill="#1c1ca8"/>
<rect x="398.90" y="521.30" width="4.4" height="4.4" fill="#f0982c"/>
<polygon points="404.0,530.42 401.60,534.58 406.40,534.58" fill="#1c1ca8"/>
<circle cx="397.7" cy="538.1" r="2.3" fill="#a51ea8"/>
<line x1="432.5" y1="507.0" x2="432.5" y2="550.3" stroke="#8a8a8a" stroke-width="0.9"/>
<line x1="432.5" y1="550.3" x2="498.5" y2="550.3" stroke="#8a8a8a" stroke-width="0.9"/>
<line x1="430.7" y1="550.30" x2="432.5" y2="550.30" stroke="#8a8a8a" stroke-width="0.8"/>
<text x="430.3" y="552.7" font-size="7.0" fill="#111" text-anchor="end" stroke="#111" stroke-width="0.28">0</text>
<line x1="430.7" y1="533.96" x2="432.5" y2="533.96" stroke="#8a8a8a" stroke-width="0.8"/>
<text x="430.3" y="536.36" font-size="7.0" fill="#111" text-anchor="end" stroke="#111" stroke-width="0.28">3</text>
<line x1="430.7" y1="517.62" x2="432.5" y2="517.62" stroke="#8a8a8a" stroke-width="0.8"/>
<text x="430.3" y="520.02" font-size="7.0" fill="#111" text-anchor="end" stroke="#111" stroke-width="0.28">6</text>
<line x1="449.5" y1="550.3" x2="449.5" y2="551.9" stroke="#8a8a8a" stroke-width="0.8"/>
<line x1="482.5" y1="550.3" x2="482.5" y2="551.9" stroke="#8a8a8a" stroke-width="0.8"/>
<text x="466.0" y="495.8" font-size="8.4" fill="#111" text-anchor="middle" stroke="#111" stroke-width="0.25">Was</text>
<path d="M449.7,518.5 L449.7,516.5 L482.7,516.5 L482.7,518.5" fill="none" stroke="#222" stroke-width="0.9"/>
<circle cx="466.5" cy="512.7" r="1.5" fill="#111"/>
<line x1="441.5" y1="545.4" x2="456.5" y2="545.4" stroke="#222" stroke-width="0.9"/>
<line x1="475.8" y1="531.3" x2="487.7" y2="531.3" stroke="#222" stroke-width="0.9"/>
<rect x="439.90" y="543.20" width="4.4" height="4.4" fill="#f0982c"/>
<polygon points="448.8,542.82 446.40,546.98 451.20,546.98" fill="#1c1ca8"/>
<circle cx="455.2" cy="545.4" r="2.3" fill="#a51ea8"/>
<rect x="479.80" y="522.60" width="4.4" height="4.4" fill="#f0982c"/>
<polygon points="478.3,533.22 475.90,537.38 480.70,537.38" fill="#1c1ca8"/>
<circle cx="485.4" cy="535.2" r="2.3" fill="#a51ea8"/>
<line x1="270.5" y1="578.4" x2="270.5" y2="622.2" stroke="#8a8a8a" stroke-width="0.9"/>
<line x1="270.5" y1="622.2" x2="336.5" y2="622.2" stroke="#8a8a8a" stroke-width="0.9"/>
<line x1="268.7" y1="622.20" x2="270.5" y2="622.20" stroke="#8a8a8a" stroke-width="0.8"/>
<text x="268.3" y="624.6" font-size="7.0" fill="#111" text-anchor="end" stroke="#111" stroke-width="0.28">0</text>
<line x1="268.7" y1="605.67" x2="270.5" y2="605.67" stroke="#8a8a8a" stroke-width="0.8"/>
<text x="268.3" y="608.07" font-size="7.0" fill="#111" text-anchor="end" stroke="#111" stroke-width="0.28">3</text>
<line x1="268.7" y1="589.14" x2="270.5" y2="589.14" stroke="#8a8a8a" stroke-width="0.8"/>
<text x="268.3" y="591.54" font-size="7.0" fill="#111" text-anchor="end" stroke="#111" stroke-width="0.28">6</text>
<line x1="287.5" y1="622.2" x2="287.5" y2="623.8000000000001" stroke="#8a8a8a" stroke-width="0.8"/>
<line x1="320.5" y1="622.2" x2="320.5" y2="623.8000000000001" stroke="#8a8a8a" stroke-width="0.8"/>
<text x="304.0" y="567.1999999999999" font-size="8.4" fill="#111" text-anchor="middle" stroke="#111" stroke-width="0.25">CD51</text>
<line x1="279.5" y1="617.0" x2="294.5" y2="617.0" stroke="#222" stroke-width="0.9"/>
<line x1="315.0" y1="612.7" x2="325.5" y2="612.7" stroke="#222" stroke-width="0.9"/>
<rect x="277.90" y="614.80" width="4.4" height="4.4" fill="#f0982c"/>
<polygon points="287.5,614.42 285.10,618.58 289.90,618.58" fill="#1c1ca8"/>
<circle cx="293.8" cy="617.0" r="2.3" fill="#a51ea8"/>
<circle cx="317.0" cy="617.0" r="2.3" fill="#a51ea8"/>
<rect x="317.80" y="608.10" width="4.4" height="4.4" fill="#f0982c"/>
<polygon points="323.6,609.52 321.20,613.68 326.00,613.68" fill="#1c1ca8"/>
<text x="287.5" y="630.8000000000001" font-size="6.8" fill="#222" text-anchor="middle" stroke="#222" stroke-width="0.2">0h</text>
<text x="320.5" y="630.8000000000001" font-size="6.8" fill="#222" text-anchor="middle" stroke="#222" stroke-width="0.2">6h</text>
<line x1="351.4" y1="578.4" x2="351.4" y2="622.2" stroke="#8a8a8a" stroke-width="0.9"/>
<line x1="351.4" y1="622.2" x2="417.4" y2="622.2" stroke="#8a8a8a" stroke-width="0.9"/>
<line x1="349.59999999999997" y1="622.20" x2="351.4" y2="622.20" stroke="#8a8a8a" stroke-width="0.8"/>
<text x="349.2" y="624.6" font-size="7.0" fill="#111" text-anchor="end" stroke="#111" stroke-width="0.28">0</text>
<line x1="349.59999999999997" y1="605.67" x2="351.4" y2="605.67" stroke="#8a8a8a" stroke-width="0.8"/>
<text x="349.2" y="608.07" font-size="7.0" fill="#111" text-anchor="end" stroke="#111" stroke-width="0.28">3</text>
<line x1="349.59999999999997" y1="589.14" x2="351.4" y2="589.14" stroke="#8a8a8a" stroke-width="0.8"/>
<text x="349.2" y="591.54" font-size="7.0" fill="#111" text-anchor="end" stroke="#111" stroke-width="0.28">6</text>
<line x1="368.4" y1="622.2" x2="368.4" y2="623.8000000000001" stroke="#8a8a8a" stroke-width="0.8"/>
<line x1="401.4" y1="622.2" x2="401.4" y2="623.8000000000001" stroke="#8a8a8a" stroke-width="0.8"/>
<text x="384.9" y="567.1999999999999" font-size="8.4" fill="#111" text-anchor="middle" stroke="#111" stroke-width="0.25">CD41</text>
<line x1="360.4" y1="616.7" x2="375.4" y2="616.7" stroke="#222" stroke-width="0.9"/>
<line x1="395.29999999999995" y1="614.7" x2="407.2" y2="614.7" stroke="#222" stroke-width="0.9"/>
<circle cx="361.5" cy="616.7" r="2.3" fill="#a51ea8"/>
<rect x="365.70" y="614.50" width="4.4" height="4.4" fill="#f0982c"/>
<polygon points="374.3,614.92 371.90,619.08 376.70,619.08" fill="#1c1ca8"/>
<circle cx="394.0" cy="613.5" r="2.3" fill="#a51ea8"/>
<rect x="398.60" y="615.30" width="4.4" height="4.4" fill="#f0982c"/>
<polygon points="407.7,611.82 405.30,615.98 410.10,615.98" fill="#1c1ca8"/>
<text x="368.4" y="630.8000000000001" font-size="6.8" fill="#222" text-anchor="middle" stroke="#222" stroke-width="0.2">0h</text>
<text x="401.4" y="630.8000000000001" font-size="6.8" fill="#222" text-anchor="middle" stroke="#222" stroke-width="0.2">6h</text>
<line x1="432.5" y1="578.4" x2="432.5" y2="622.2" stroke="#8a8a8a" stroke-width="0.9"/>
<line x1="432.5" y1="622.2" x2="498.5" y2="622.2" stroke="#8a8a8a" stroke-width="0.9"/>
<line x1="430.7" y1="622.20" x2="432.5" y2="622.20" stroke="#8a8a8a" stroke-width="0.8"/>
<text x="430.3" y="624.6" font-size="7.0" fill="#111" text-anchor="end" stroke="#111" stroke-width="0.28">0</text>
<line x1="430.7" y1="605.67" x2="432.5" y2="605.67" stroke="#8a8a8a" stroke-width="0.8"/>
<text x="430.3" y="608.07" font-size="7.0" fill="#111" text-anchor="end" stroke="#111" stroke-width="0.28">3</text>
<line x1="430.7" y1="589.14" x2="432.5" y2="589.14" stroke="#8a8a8a" stroke-width="0.8"/>
<text x="430.3" y="591.54" font-size="7.0" fill="#111" text-anchor="end" stroke="#111" stroke-width="0.28">6</text>
<line x1="449.5" y1="622.2" x2="449.5" y2="623.8000000000001" stroke="#8a8a8a" stroke-width="0.8"/>
<line x1="482.5" y1="622.2" x2="482.5" y2="623.8000000000001" stroke="#8a8a8a" stroke-width="0.8"/>
<text x="466.0" y="567.1999999999999" font-size="8.4" fill="#111" text-anchor="middle" stroke="#111" stroke-width="0.25">Myl9</text>
<line x1="441.5" y1="617.0" x2="456.5" y2="617.0" stroke="#222" stroke-width="0.9"/>
<line x1="475.5" y1="617.0" x2="488.5" y2="617.0" stroke="#222" stroke-width="0.9"/>
<circle cx="442.1" cy="617.0" r="2.3" fill="#a51ea8"/>
<rect x="446.60" y="614.80" width="4.4" height="4.4" fill="#f0982c"/>
<polygon points="455.2,614.42 452.80,618.58 457.60,618.58" fill="#1c1ca8"/>
<circle cx="475.4" cy="615.6" r="2.3" fill="#a51ea8"/>
<polygon points="481.5,615.42 479.10,619.58 483.90,619.58" fill="#1c1ca8"/>
<rect x="486.10" y="615.30" width="4.4" height="4.4" fill="#f0982c"/>
<text x="449.5" y="630.8000000000001" font-size="6.8" fill="#222" text-anchor="middle" stroke="#222" stroke-width="0.2">0h</text>
<text x="482.5" y="630.8000000000001" font-size="6.8" fill="#222" text-anchor="middle" stroke="#222" stroke-width="0.2">6h</text>
</svg>
</body></html>
